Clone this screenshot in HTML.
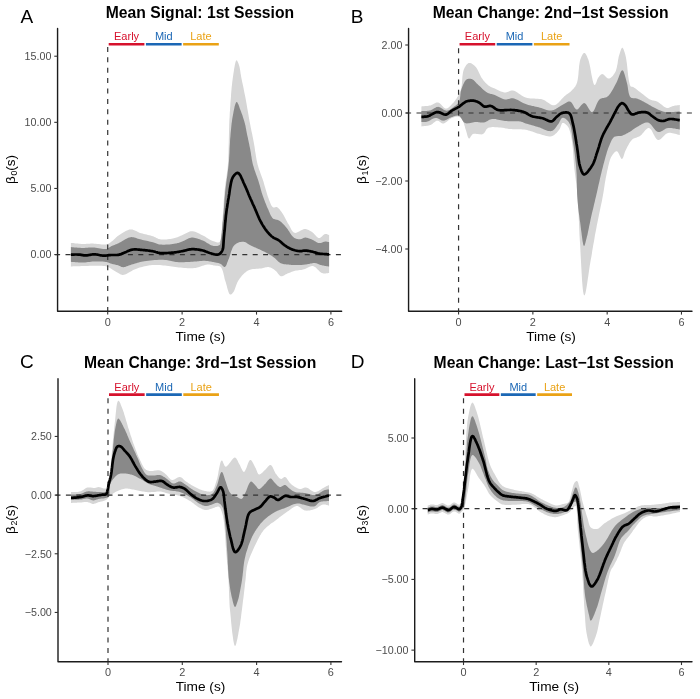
<!DOCTYPE html>
<html><head><meta charset="utf-8"><style>
html,body{margin:0;padding:0;background:#fff;}
svg{display:block;will-change:transform;}
text{font-family:"Liberation Sans", sans-serif;}
</style></head><body>
<svg width="700" height="699" viewBox="0 0 700 699">
<rect width="700" height="699" fill="#fff"/>
<path d="M70.90,242.90L72.0,243.0L73.2,243.1L74.3,243.2L75.5,243.4L76.6,243.5L77.8,243.6L78.9,243.7L80.0,243.8L81.2,243.9L82.3,243.9L83.4,243.9L84.4,243.9L85.5,243.9L86.5,243.8L87.6,243.8L88.6,243.7L89.7,243.7L90.8,243.6L91.9,243.6L93.0,243.6L94.3,243.7L95.7,243.8L97.2,243.9L98.7,244.1L100.2,244.2L101.7,244.4L103.1,244.5L104.4,244.5L105.6,244.4L106.6,244.3L107.1,244.2L107.6,244.0L108.1,243.8L108.5,243.7L108.9,243.4L109.3,243.2L109.6,243.0L110.0,242.7L110.4,242.4L110.9,242.1L111.6,241.6L112.3,241.0L113.0,240.4L113.7,239.7L114.5,239.0L115.3,238.2L116.0,237.5L116.9,236.8L117.7,236.1L118.6,235.5L119.7,234.8L120.8,234.0L122.0,233.2L123.2,232.4L124.5,231.7L125.7,231.0L127.0,230.4L128.2,229.9L129.4,229.6L130.6,229.4L131.6,229.4L132.5,229.6L133.4,229.9L134.3,230.2L135.3,230.7L136.2,231.1L137.1,231.6L138.0,232.1L139.0,232.5L140.0,232.9L141.2,233.3L142.5,233.6L143.8,234.0L145.2,234.3L146.6,234.6L147.9,234.9L149.3,235.3L150.5,235.6L151.8,235.9L152.9,236.3L153.7,236.6L154.4,236.9L155.1,237.3L155.8,237.6L156.4,238.0L157.1,238.3L157.8,238.6L158.5,238.9L159.2,239.1L160.0,239.3L161.1,239.4L162.4,239.5L163.7,239.5L165.0,239.5L166.4,239.4L167.7,239.3L169.1,239.1L170.4,238.9L171.7,238.7L172.9,238.5L173.8,238.3L174.7,238.0L175.6,237.8L176.5,237.5L177.3,237.2L178.1,236.9L178.9,236.5L179.8,236.2L180.6,235.8L181.5,235.5L182.5,235.1L183.5,234.6L184.5,234.0L185.5,233.5L186.6,232.9L187.6,232.4L188.7,231.9L189.7,231.5L190.7,231.3L191.8,231.2L192.9,231.3L194.0,231.5L195.1,231.8L196.3,232.2L197.4,232.7L198.5,233.3L199.6,233.8L200.7,234.4L201.8,235.0L202.9,235.5L203.9,236.0L205.0,236.6L206.0,237.2L207.0,237.9L208.0,238.5L209.0,239.2L210.0,239.8L211.0,240.3L212.0,240.7L212.9,241.1L213.6,241.3L214.4,241.6L215.1,241.8L215.8,242.1L216.5,242.3L217.2,242.4L217.9,242.4L218.5,242.4L219.1,242.2L219.6,241.9L220.3,241.0L220.9,239.7L221.3,237.9L221.5,235.9L221.7,233.7L221.8,231.3L221.9,228.8L222.0,226.2L222.1,223.8L222.3,221.4L222.6,218.5L222.8,215.5L223.1,212.4L223.3,209.2L223.5,205.9L223.7,202.6L223.9,199.4L224.2,196.2L224.4,193.0L224.7,190.0L225.0,187.4L225.3,184.9L225.6,182.4L226.0,180.0L226.4,177.6L226.7,175.2L227.0,172.8L227.4,170.3L227.7,167.6L227.9,164.9L228.2,161.2L228.3,157.4L228.5,153.3L228.6,149.1L228.7,144.9L228.8,140.7L228.9,136.5L229.0,132.5L229.1,128.6L229.2,125.0L229.3,122.4L229.4,119.8L229.6,117.3L229.7,114.9L229.8,112.6L230.0,110.3L230.1,108.0L230.3,105.7L230.4,103.4L230.6,101.0L230.8,98.7L231.0,96.3L231.1,94.0L231.3,91.6L231.5,89.3L231.7,86.9L232.0,84.7L232.2,82.4L232.5,80.2L232.8,78.0L233.1,76.0L233.4,73.8L233.8,71.4L234.1,69.1L234.5,66.9L234.9,64.8L235.3,63.0L235.7,61.6L236.1,60.7L236.5,60.3L236.7,60.3L237.0,60.5L237.2,60.8L237.4,61.2L237.7,61.7L237.9,62.2L238.1,62.8L238.4,63.3L238.6,63.9L238.8,64.5L239.1,65.5L239.4,66.6L239.7,67.8L239.9,69.1L240.2,70.5L240.4,71.9L240.6,73.4L240.9,74.9L241.1,76.4L241.4,77.9L241.8,79.9L242.2,82.1L242.7,84.3L243.2,86.6L243.7,88.9L244.1,91.3L244.6,93.7L245.1,96.0L245.6,98.4L246.0,100.7L246.4,103.0L246.8,105.3L247.2,107.7L247.6,110.0L248.0,112.3L248.4,114.6L248.8,116.9L249.2,119.2L249.6,121.4L250.0,123.6L250.4,125.5L250.7,127.3L251.1,129.1L251.4,130.8L251.8,132.5L252.2,134.3L252.5,136.0L252.9,137.8L253.2,139.6L253.6,141.5L254.0,143.7L254.4,146.1L254.8,148.5L255.1,150.9L255.5,153.3L255.9,155.8L256.3,158.2L256.7,160.5L257.2,162.8L257.7,164.9L258.2,166.6L258.6,168.1L259.1,169.6L259.7,171.1L260.2,172.6L260.7,174.0L261.3,175.5L261.8,176.9L262.4,178.4L262.9,180.0L263.5,181.8L264.0,183.7L264.6,185.7L265.2,187.7L265.7,189.6L266.3,191.6L266.9,193.5L267.4,195.3L268.0,197.0L268.6,198.6L269.0,199.7L269.4,200.7L269.8,201.8L270.2,202.8L270.6,203.8L271.0,204.7L271.4,205.5L271.9,206.2L272.4,206.8L272.9,207.2L273.3,207.4L273.7,207.4L274.1,207.4L274.5,207.4L275.0,207.3L275.4,207.2L275.8,207.1L276.3,207.0L276.7,207.1L277.1,207.2L277.6,207.5L278.2,207.9L278.7,208.4L279.2,208.9L279.7,209.5L280.2,210.2L280.7,210.9L281.2,211.6L281.7,212.3L282.2,213.0L282.9,214.0L283.5,215.1L284.2,216.2L284.8,217.4L285.5,218.7L286.1,219.9L286.7,221.1L287.4,222.4L288.0,223.5L288.7,224.6L289.3,225.5L289.8,226.5L290.3,227.6L290.8,228.6L291.3,229.5L291.9,230.4L292.5,231.2L293.1,231.9L293.8,232.5L294.5,232.8L295.4,232.9L296.3,232.7L297.4,232.3L298.5,231.8L299.6,231.2L300.7,230.5L301.9,229.9L303.0,229.4L304.0,229.1L305.0,229.0L305.8,229.1L306.5,229.2L307.2,229.4L307.9,229.7L308.6,230.0L309.3,230.4L310.0,230.8L310.7,231.2L311.3,231.6L312.0,232.0L312.7,232.5L313.5,233.2L314.2,234.0L314.9,234.8L315.6,235.6L316.3,236.3L317.0,237.0L317.7,237.6L318.4,237.9L319.1,238.1L319.7,238.0L320.3,237.7L320.9,237.3L321.6,236.8L322.2,236.2L322.8,235.6L323.4,235.1L324.0,234.6L324.5,234.2L325.1,234.0L325.5,234.0L325.9,234.0L326.3,234.0L326.7,234.1L327.1,234.3L327.5,234.4L327.9,234.6L328.3,234.7L328.7,234.9L329.1,235.0L329.10,273.10L328.4,273.1L327.7,273.2L327.0,273.3L326.3,273.3L325.6,273.4L324.9,273.4L324.2,273.5L323.5,273.4L322.8,273.3L322.1,273.1L321.2,272.7L320.3,272.0L319.4,271.2L318.5,270.3L317.6,269.4L316.7,268.5L315.8,267.6L314.9,266.9L314.0,266.4L313.0,266.1L312.0,266.1L311.1,266.2L310.1,266.5L309.0,266.9L308.0,267.4L307.0,267.9L306.0,268.4L305.0,268.9L304.0,269.3L303.0,269.6L302.2,269.8L301.3,269.9L300.5,270.0L299.7,270.1L298.9,270.2L298.1,270.3L297.3,270.4L296.6,270.5L295.8,270.6L295.0,270.8L294.2,271.0L293.4,271.3L292.7,271.5L291.9,271.8L291.1,272.1L290.4,272.4L289.6,272.7L288.9,273.0L288.1,273.3L287.4,273.6L286.7,273.9L286.0,274.2L285.4,274.6L284.7,275.0L284.0,275.4L283.4,275.7L282.7,276.0L282.1,276.2L281.5,276.2L280.9,276.2L280.3,276.0L279.8,275.6L279.3,275.2L278.8,274.6L278.3,274.0L277.9,273.4L277.4,272.7L276.9,272.1L276.4,271.5L275.8,271.0L275.2,270.5L274.6,270.1L274.0,269.6L273.4,269.1L272.7,268.7L272.1,268.3L271.4,267.9L270.7,267.6L270.0,267.4L269.3,267.2L268.5,267.1L267.6,267.1L266.8,267.2L265.9,267.3L265.0,267.5L264.0,267.7L263.1,267.9L262.2,268.2L261.2,268.4L260.3,268.5L259.3,268.6L258.2,268.7L257.1,268.8L256.1,268.8L255.0,268.9L253.9,269.0L252.8,269.1L251.8,269.2L250.9,269.4L250.0,269.7L249.3,270.0L248.7,270.2L248.1,270.5L247.5,270.8L247.0,271.2L246.4,271.6L245.9,272.0L245.4,272.4L244.8,272.8L244.3,273.3L243.6,273.9L243.0,274.6L242.3,275.3L241.6,276.1L241.0,276.9L240.3,277.7L239.7,278.6L239.1,279.4L238.5,280.3L238.0,281.2L237.4,282.2L236.9,283.4L236.5,284.6L236.0,285.8L235.6,287.1L235.1,288.3L234.7,289.5L234.3,290.5L233.8,291.4L233.3,292.2L233.0,292.6L232.7,293.0L232.4,293.3L232.1,293.7L231.7,294.0L231.4,294.2L231.1,294.4L230.8,294.6L230.5,294.6L230.2,294.6L229.7,294.2L229.1,293.4L228.6,292.3L228.2,291.0L227.7,289.4L227.2,287.7L226.8,286.0L226.3,284.3L225.9,282.7L225.4,281.2L224.9,279.7L224.5,278.2L224.2,276.5L223.8,274.9L223.4,273.2L223.0,271.7L222.5,270.2L222.0,268.9L221.4,267.8L220.7,267.0L220.2,266.6L219.6,266.3L219.0,266.1L218.4,265.9L217.7,265.8L217.1,265.8L216.4,265.7L215.7,265.7L215.1,265.6L214.4,265.5L213.7,265.4L213.0,265.2L212.3,265.1L211.7,264.9L211.0,264.8L210.2,264.7L209.5,264.6L208.8,264.6L208.0,264.6L207.2,264.6L206.1,264.7L204.9,265.0L203.7,265.4L202.4,265.8L201.1,266.3L199.8,266.7L198.4,267.2L197.1,267.6L195.7,267.9L194.3,268.1L192.7,268.2L191.0,268.3L189.4,268.2L187.7,268.2L185.9,268.0L184.2,267.9L182.4,267.7L180.7,267.5L178.9,267.4L177.2,267.2L175.5,267.0L173.7,266.8L171.9,266.6L170.2,266.3L168.4,266.0L166.6,265.8L164.9,265.6L163.2,265.4L161.6,265.2L160.0,265.1L158.8,265.1L157.6,265.0L156.4,265.0L155.3,265.0L154.2,265.0L153.1,265.1L152.0,265.1L150.9,265.2L149.7,265.3L148.6,265.5L147.3,265.7L146.1,265.9L144.8,266.2L143.5,266.5L142.2,266.9L140.9,267.2L139.6,267.6L138.3,268.0L137.1,268.5L135.8,268.9L134.5,269.4L133.1,270.1L131.7,270.9L130.3,271.7L128.9,272.5L127.6,273.2L126.3,273.9L125.0,274.4L123.9,274.8L122.9,274.9L122.4,274.9L121.9,274.8L121.5,274.7L121.1,274.6L120.7,274.4L120.3,274.2L119.9,273.9L119.5,273.7L119.1,273.4L118.6,273.2L117.9,272.8L117.2,272.4L116.4,272.0L115.6,271.5L114.7,270.9L113.9,270.4L113.1,269.9L112.3,269.4L111.6,269.0L110.9,268.6L110.4,268.3L110.0,268.1L109.6,267.8L109.2,267.6L108.8,267.4L108.4,267.1L108.0,266.9L107.6,266.7L107.1,266.6L106.6,266.4L105.8,266.2L104.9,266.1L104.0,265.9L103.0,265.9L102.0,265.8L100.9,265.8L99.9,265.7L98.8,265.7L97.7,265.7L96.6,265.7L95.3,265.7L93.9,265.7L92.4,265.7L91.0,265.8L89.5,265.8L88.0,265.9L86.6,265.9L85.1,266.0L83.7,266.1L82.3,266.1L81.1,266.1L79.9,266.2L78.8,266.2L77.6,266.2L76.5,266.3L75.4,266.3L74.3,266.3L73.2,266.3L72.0,266.4L70.9,266.4Z" fill="#d6d6d6"/>
<path d="M70.90,247.10L72.0,247.2L73.2,247.3L74.3,247.4L75.5,247.5L76.6,247.6L77.8,247.7L78.9,247.8L80.0,247.8L81.2,247.9L82.3,247.9L83.4,247.9L84.4,247.9L85.5,247.8L86.5,247.7L87.6,247.7L88.6,247.6L89.7,247.5L90.8,247.5L91.9,247.5L93.0,247.5L94.3,247.6L95.7,247.8L97.2,248.0L98.7,248.3L100.2,248.5L101.7,248.7L103.1,248.9L104.4,249.0L105.6,249.0L106.6,248.9L107.1,248.8L107.6,248.6L108.1,248.3L108.5,248.1L108.8,247.8L109.2,247.5L109.6,247.2L110.0,246.9L110.4,246.7L110.9,246.4L111.6,246.1L112.3,245.8L113.0,245.5L113.7,245.2L114.5,244.9L115.3,244.6L116.1,244.3L116.9,243.9L117.8,243.6L118.6,243.2L119.7,242.6L120.9,242.0L122.0,241.3L123.3,240.5L124.5,239.8L125.8,239.0L127.0,238.4L128.2,237.8L129.4,237.4L130.6,237.2L131.6,237.1L132.5,237.2L133.4,237.3L134.3,237.5L135.3,237.8L136.2,238.1L137.1,238.4L138.0,238.7L139.0,239.0L140.0,239.3L141.2,239.6L142.5,239.9L143.8,240.2L145.2,240.5L146.6,240.8L147.9,241.1L149.3,241.4L150.5,241.7L151.8,242.0L152.9,242.3L153.7,242.5L154.4,242.8L155.1,243.0L155.8,243.3L156.4,243.5L157.1,243.8L157.7,244.0L158.4,244.2L159.2,244.4L160.0,244.5L161.3,244.6L162.8,244.7L164.4,244.7L166.1,244.6L167.8,244.5L169.5,244.4L171.1,244.2L172.7,244.0L174.2,243.8L175.5,243.6L176.3,243.4L177.0,243.3L177.7,243.1L178.4,242.9L179.0,242.7L179.7,242.5L180.3,242.2L180.9,242.0L181.6,241.8L182.3,241.5L183.2,241.1L184.1,240.7L185.0,240.2L185.9,239.7L186.9,239.2L187.9,238.8L188.8,238.3L189.8,238.0L190.8,237.7L191.8,237.6L192.9,237.6L194.0,237.7L195.1,237.9L196.2,238.2L197.3,238.5L198.5,238.9L199.6,239.3L200.7,239.7L201.8,240.2L202.9,240.6L203.9,241.1L205.0,241.6L206.0,242.2L207.0,242.9L208.1,243.5L209.1,244.1L210.0,244.7L211.0,245.2L212.0,245.6L212.9,245.8L213.6,245.9L214.4,246.0L215.2,246.0L215.9,246.0L216.7,246.0L217.4,245.9L218.0,245.8L218.6,245.6L219.2,245.3L219.6,245.0L219.9,244.7L220.1,244.4L220.2,244.0L220.3,243.6L220.4,243.1L220.5,242.6L220.5,242.1L220.5,241.5L220.6,240.9L220.7,240.3L220.9,238.8L221.2,237.0L221.4,235.0L221.7,232.8L221.9,230.5L222.2,228.1L222.4,225.6L222.6,223.1L222.9,220.7L223.1,218.3L223.3,215.6L223.6,212.8L223.8,210.0L224.0,207.2L224.2,204.3L224.4,201.4L224.6,198.5L224.9,195.6L225.1,192.8L225.4,190.0L225.7,187.4L226.0,184.9L226.3,182.4L226.7,180.0L227.0,177.5L227.4,175.1L227.7,172.6L228.0,170.1L228.3,167.5L228.6,164.9L228.9,161.9L229.1,158.7L229.3,155.5L229.5,152.3L229.6,149.0L229.8,145.7L230.0,142.5L230.1,139.4L230.4,136.4L230.6,133.6L230.8,131.5L231.0,129.4L231.2,127.5L231.4,125.5L231.6,123.6L231.9,121.7L232.1,119.9L232.4,118.1L232.7,116.4L233.0,114.7L233.3,113.2L233.6,111.6L233.9,109.9L234.3,108.2L234.6,106.6L235.0,105.2L235.4,103.9L235.8,102.9L236.2,102.3L236.6,102.0L237.0,102.1L237.4,102.5L237.7,103.2L238.2,104.0L238.6,105.0L239.0,106.1L239.4,107.2L239.8,108.4L240.2,109.5L240.6,110.5L241.1,111.7L241.5,113.0L242.0,114.3L242.5,115.6L242.9,117.0L243.4,118.4L243.8,119.7L244.2,121.1L244.6,122.4L244.9,123.6L245.1,124.6L245.4,125.5L245.6,126.4L245.7,127.3L245.9,128.2L246.1,129.1L246.2,130.0L246.4,131.0L246.6,132.0L246.8,133.0L247.1,134.5L247.4,136.0L247.8,137.6L248.1,139.2L248.5,140.9L248.8,142.6L249.2,144.3L249.5,146.0L249.9,147.7L250.2,149.3L250.5,150.9L250.8,152.4L251.0,154.0L251.2,155.6L251.5,157.1L251.7,158.7L252.0,160.2L252.3,161.8L252.6,163.3L253.0,164.9L253.5,166.6L254.0,168.2L254.5,169.9L255.1,171.6L255.7,173.3L256.3,175.0L256.9,176.6L257.5,178.3L258.1,179.9L258.6,181.5L259.0,182.9L259.4,184.3L259.8,185.6L260.2,187.0L260.5,188.3L260.9,189.7L261.3,191.0L261.6,192.3L262.1,193.7L262.5,195.0L263.0,196.4L263.5,197.8L264.0,199.3L264.6,200.7L265.1,202.2L265.7,203.6L266.3,205.0L266.8,206.4L267.4,207.7L268.0,209.0L268.5,210.1L268.9,211.2L269.4,212.3L269.8,213.3L270.3,214.4L270.8,215.4L271.3,216.3L271.8,217.1L272.4,217.9L273.0,218.5L273.5,218.9L274.1,219.1L274.7,219.3L275.3,219.5L275.9,219.6L276.5,219.7L277.2,219.8L277.8,220.0L278.4,220.2L279.0,220.5L279.7,221.0L280.5,221.5L281.2,222.1L281.9,222.7L282.6,223.4L283.3,224.1L284.0,224.9L284.7,225.6L285.4,226.4L286.1,227.2L286.9,228.2L287.7,229.2L288.4,230.4L289.2,231.6L289.9,232.7L290.7,233.9L291.4,235.0L292.2,236.0L293.0,236.8L293.8,237.5L294.4,237.9L295.0,238.2L295.6,238.5L296.3,238.7L296.9,238.9L297.5,239.1L298.2,239.2L298.8,239.3L299.4,239.3L300.0,239.3L300.5,239.2L301.0,239.1L301.5,238.9L302.0,238.7L302.5,238.5L303.0,238.2L303.5,238.0L304.0,237.8L304.5,237.7L305.0,237.6L305.7,237.6L306.3,237.7L307.0,237.8L307.7,238.0L308.4,238.2L309.2,238.5L309.9,238.8L310.6,239.0L311.3,239.3L312.0,239.6L312.7,239.9L313.4,240.3L314.2,240.7L314.9,241.2L315.6,241.6L316.3,242.0L317.0,242.4L317.7,242.7L318.4,243.0L319.1,243.1L319.7,243.1L320.3,243.0L321.0,242.9L321.6,242.7L322.2,242.5L322.8,242.2L323.4,242.0L324.0,241.8L324.5,241.7L325.1,241.6L325.5,241.6L325.9,241.6L326.4,241.6L326.8,241.7L327.1,241.8L327.5,241.8L327.9,241.9L328.3,242.0L328.7,242.0L329.1,242.1L329.10,266.60L328.3,266.5L327.5,266.3L326.7,266.2L325.8,266.0L325.0,265.9L324.2,265.8L323.4,265.6L322.6,265.5L321.8,265.3L321.1,265.1L320.5,264.9L319.9,264.7L319.3,264.5L318.7,264.2L318.1,264.0L317.6,263.7L317.0,263.5L316.4,263.3L315.8,263.2L315.1,263.1L314.2,263.1L313.3,263.1L312.3,263.2L311.3,263.4L310.2,263.6L309.2,263.9L308.1,264.1L307.1,264.3L306.0,264.5L305.0,264.6L304.0,264.7L303.0,264.8L301.9,264.9L300.9,264.9L299.9,265.0L298.8,265.0L297.8,265.1L296.9,265.1L295.9,265.1L295.0,265.1L294.3,265.1L293.7,265.1L293.0,265.0L292.4,265.0L291.8,264.9L291.2,264.9L290.6,264.8L290.0,264.8L289.3,264.7L288.7,264.6L287.9,264.5L287.2,264.5L286.4,264.4L285.6,264.3L284.8,264.3L284.0,264.2L283.2,264.0L282.4,263.8L281.6,263.6L280.9,263.3L280.1,262.9L279.3,262.3L278.5,261.7L277.7,261.0L277.0,260.3L276.2,259.6L275.5,258.8L274.7,258.1L274.0,257.5L273.2,256.9L272.6,256.4L271.9,256.0L271.3,255.6L270.7,255.2L270.1,254.9L269.4,254.5L268.8,254.1L268.2,253.8L267.5,253.4L266.8,253.0L265.9,252.5L265.0,252.1L264.1,251.6L263.2,251.2L262.2,250.7L261.2,250.2L260.3,249.8L259.3,249.3L258.4,248.9L257.5,248.5L256.7,248.2L256.0,247.8L255.3,247.5L254.5,247.2L253.8,246.9L253.1,246.6L252.4,246.3L251.7,246.0L251.0,245.6L250.3,245.3L249.7,245.0L249.1,244.6L248.5,244.2L247.9,243.8L247.3,243.4L246.7,243.0L246.1,242.6L245.5,242.3L244.9,242.1L244.3,241.9L243.7,241.8L243.0,241.8L242.4,241.7L241.7,241.8L241.1,241.9L240.4,242.0L239.8,242.1L239.2,242.3L238.6,242.5L238.0,242.7L237.5,242.9L236.9,243.2L236.4,243.5L236.0,243.9L235.5,244.2L235.0,244.6L234.6,245.1L234.1,245.5L233.7,246.0L233.3,246.6L232.7,247.5L232.2,248.7L231.7,249.9L231.2,251.2L230.8,252.6L230.4,254.0L229.9,255.4L229.5,256.8L229.1,258.0L228.6,259.2L228.2,260.1L227.9,261.1L227.5,262.1L227.1,263.1L226.8,264.1L226.4,265.0L226.0,265.7L225.6,266.3L225.2,266.8L224.7,267.0L224.3,267.0L224.0,266.9L223.6,266.6L223.2,266.2L222.8,265.8L222.4,265.4L222.0,265.0L221.6,264.5L221.2,264.2L220.7,263.9L220.2,263.7L219.6,263.4L219.0,263.3L218.4,263.1L217.8,263.0L217.1,262.8L216.4,262.7L215.8,262.6L215.1,262.4L214.4,262.3L213.5,262.1L212.7,261.9L211.7,261.7L210.8,261.6L209.9,261.4L208.9,261.2L207.9,261.1L207.0,261.0L206.0,260.9L205.0,260.8L204.0,260.8L202.9,260.8L201.9,260.9L200.9,261.0L199.9,261.1L198.8,261.2L197.7,261.3L196.6,261.4L195.5,261.5L194.3,261.6L192.7,261.7L191.1,261.8L189.4,261.9L187.6,262.0L185.8,262.1L184.0,262.2L182.2,262.2L180.5,262.2L178.8,262.2L177.2,262.1L175.9,262.0L174.7,261.8L173.5,261.5L172.3,261.3L171.2,261.0L170.0,260.7L168.8,260.4L167.6,260.2L166.3,260.0L165.0,259.9L163.1,259.8L161.1,259.8L159.0,259.8L156.9,259.9L154.7,260.1L152.5,260.2L150.3,260.4L148.2,260.7L146.2,260.9L144.3,261.2L142.9,261.5L141.5,261.8L140.1,262.1L138.8,262.4L137.5,262.8L136.3,263.2L135.0,263.5L133.8,263.9L132.7,264.3L131.5,264.6L130.6,264.9L129.6,265.2L128.7,265.6L127.8,265.9L126.9,266.3L126.0,266.6L125.2,266.9L124.4,267.1L123.6,267.2L122.9,267.2L122.4,267.1L122.0,267.0L121.5,266.9L121.1,266.7L120.7,266.5L120.3,266.3L119.9,266.1L119.5,265.9L119.1,265.7L118.6,265.5L117.9,265.3L117.2,265.1L116.4,264.9L115.6,264.7L114.8,264.5L113.9,264.3L113.1,264.2L112.3,264.0L111.6,263.8L110.9,263.6L110.4,263.4L110.0,263.3L109.6,263.1L109.2,263.0L108.8,262.8L108.4,262.6L108.0,262.5L107.6,262.3L107.1,262.2L106.6,262.1L105.8,261.9L104.9,261.8L104.0,261.7L103.0,261.6L102.0,261.5L100.9,261.5L99.9,261.4L98.8,261.4L97.7,261.4L96.6,261.4L95.3,261.4L93.9,261.5L92.4,261.6L91.0,261.8L89.5,261.9L88.0,262.1L86.6,262.2L85.1,262.4L83.7,262.5L82.3,262.5L81.1,262.5L79.9,262.5L78.8,262.4L77.6,262.3L76.5,262.2L75.4,262.2L74.3,262.1L73.2,262.0L72.0,261.9L70.9,261.8Z" fill="#898989"/>
<line x1="55.10" y1="254.57" x2="342.35" y2="254.57" stroke="#333" stroke-width="1.2" stroke-dasharray="5,5.4"/>
<line x1="107.71" y1="46.90" x2="107.71" y2="311.30" stroke="#333" stroke-width="1.2" stroke-dasharray="5,5.4"/>
<path d="M70.90,254.60L71.7,254.6L72.5,254.6L73.3,254.6L74.0,254.6L74.8,254.5L75.6,254.5L76.4,254.5L77.2,254.5L77.9,254.6L78.7,254.6L79.4,254.7L80.2,254.7L80.9,254.8L81.6,254.9L82.3,255.1L83.0,255.2L83.7,255.3L84.4,255.3L85.2,255.4L85.9,255.4L86.7,255.4L87.5,255.3L88.4,255.1L89.2,255.0L90.1,254.8L90.9,254.7L91.8,254.5L92.7,254.4L93.5,254.3L94.4,254.3L95.3,254.3L96.3,254.5L97.2,254.6L98.1,254.8L99.1,255.0L100.0,255.2L101.0,255.4L101.9,255.5L102.8,255.6L103.7,255.7L104.5,255.7L105.2,255.7L105.9,255.6L106.6,255.5L107.3,255.4L108.0,255.3L108.7,255.2L109.5,255.1L110.2,255.1L110.9,255.0L111.7,255.0L112.4,255.0L113.2,255.0L114.0,255.0L114.8,255.0L115.6,255.0L116.3,255.0L117.1,255.0L117.9,254.9L118.6,254.8L119.3,254.6L120.0,254.4L120.7,254.2L121.4,253.9L122.1,253.6L122.8,253.4L123.5,253.1L124.1,252.8L124.8,252.5L125.5,252.2L126.2,251.9L126.8,251.6L127.5,251.3L128.1,251.0L128.8,250.7L129.5,250.4L130.1,250.2L130.8,249.9L131.6,249.8L132.3,249.6L133.2,249.5L134.2,249.4L135.2,249.4L136.2,249.4L137.3,249.5L138.4,249.6L139.4,249.7L140.5,249.8L141.6,249.9L142.6,250.0L143.6,250.1L144.7,250.2L145.8,250.3L146.8,250.4L147.9,250.5L148.9,250.7L150.0,250.8L151.0,251.0L152.0,251.1L152.9,251.3L153.7,251.5L154.4,251.6L155.1,251.8L155.7,252.0L156.4,252.2L157.1,252.4L157.7,252.6L158.5,252.8L159.2,252.9L160.0,253.0L161.1,253.1L162.4,253.1L163.7,253.1L165.0,253.1L166.4,253.1L167.7,253.0L169.1,252.9L170.4,252.8L171.7,252.7L172.9,252.6L173.8,252.5L174.7,252.4L175.6,252.3L176.4,252.2L177.3,252.0L178.1,251.9L178.9,251.8L179.8,251.6L180.6,251.5L181.5,251.3L182.5,251.1L183.5,250.9L184.5,250.6L185.5,250.4L186.6,250.1L187.6,249.8L188.6,249.6L189.7,249.4L190.7,249.3L191.8,249.2L192.9,249.2L194.0,249.2L195.2,249.3L196.3,249.4L197.5,249.5L198.6,249.7L199.8,249.9L200.9,250.1L201.9,250.3L202.9,250.5L203.7,250.7L204.4,250.9L205.1,251.2L205.7,251.5L206.4,251.7L207.1,252.0L207.7,252.3L208.4,252.5L209.1,252.8L209.8,253.0L210.6,253.2L211.5,253.5L212.4,253.8L213.4,254.0L214.3,254.3L215.2,254.5L216.1,254.6L216.9,254.7L217.7,254.6L218.4,254.5L218.9,254.3L219.4,254.1L219.8,253.8L220.3,253.4L220.7,253.0L221.0,252.6L221.4,252.1L221.7,251.6L222.0,251.1L222.3,250.5L222.7,249.5L223.0,248.5L223.2,247.3L223.3,246.0L223.4,244.6L223.5,243.2L223.6,241.7L223.7,240.2L223.8,238.7L223.9,237.2L224.1,235.1L224.3,232.8L224.6,230.5L224.8,228.0L225.0,225.5L225.2,223.0L225.5,220.5L225.7,218.1L225.9,215.8L226.2,213.6L226.4,211.9L226.6,210.3L226.8,208.7L227.1,207.2L227.3,205.7L227.5,204.2L227.8,202.7L228.0,201.1L228.3,199.5L228.6,197.9L228.9,195.9L229.3,193.7L229.6,191.4L229.9,189.0L230.3,186.7L230.7,184.4L231.1,182.3L231.6,180.3L232.2,178.6L232.9,177.2L233.3,176.5L233.8,175.8L234.3,175.2L234.8,174.6L235.3,174.1L235.8,173.6L236.4,173.3L236.9,173.0L237.4,172.9L237.9,172.9L238.6,173.2L239.2,173.9L239.9,174.8L240.6,175.9L241.2,177.2L241.8,178.7L242.5,180.1L243.1,181.6L243.7,183.0L244.3,184.3L244.9,185.6L245.5,186.9L246.1,188.2L246.7,189.6L247.2,190.9L247.8,192.3L248.3,193.6L248.9,195.0L249.4,196.3L250.0,197.6L250.5,198.8L251.1,200.0L251.6,201.1L252.1,202.3L252.6,203.5L253.1,204.6L253.7,205.7L254.2,206.9L254.7,208.0L255.2,209.2L255.7,210.4L256.2,211.5L256.7,212.7L257.2,213.9L257.7,215.1L258.2,216.2L258.7,217.4L259.2,218.6L259.7,219.7L260.3,220.8L260.9,221.9L261.5,223.0L262.1,224.1L262.7,225.1L263.4,226.2L264.1,227.3L264.7,228.3L265.4,229.3L266.1,230.2L266.8,231.1L267.4,231.8L268.0,232.6L268.7,233.3L269.3,234.0L269.9,234.7L270.6,235.3L271.2,235.9L271.9,236.5L272.6,237.0L273.2,237.5L273.7,237.8L274.2,238.1L274.8,238.4L275.3,238.6L275.8,238.8L276.3,239.1L276.8,239.3L277.3,239.5L277.9,239.8L278.4,240.1L279.0,240.5L279.7,241.0L280.3,241.5L280.9,242.1L281.6,242.6L282.2,243.2L282.8,243.8L283.5,244.3L284.1,244.8L284.8,245.3L285.4,245.7L286.0,246.2L286.6,246.6L287.3,247.0L287.9,247.4L288.5,247.8L289.2,248.1L289.8,248.5L290.5,248.8L291.2,249.1L292.0,249.4L292.9,249.7L293.8,250.0L294.7,250.3L295.6,250.5L296.6,250.7L297.5,250.9L298.4,251.0L299.2,251.1L300.0,251.2L300.6,251.2L301.1,251.2L301.6,251.1L302.1,251.0L302.5,250.9L303.0,250.8L303.5,250.7L304.0,250.7L304.5,250.6L305.0,250.6L305.7,250.6L306.3,250.7L307.0,250.7L307.7,250.8L308.4,250.9L309.1,251.0L309.9,251.2L310.6,251.3L311.3,251.5L312.0,251.6L312.7,251.8L313.4,252.0L314.1,252.2L314.9,252.4L315.6,252.6L316.3,252.9L317.0,253.1L317.7,253.3L318.4,253.5L319.1,253.6L319.7,253.7L320.3,253.8L321.0,253.8L321.6,253.9L322.2,253.9L322.8,254.0L323.4,254.0L324.0,254.0L324.6,254.1L325.1,254.1L325.5,254.1L326.0,254.2L326.4,254.2L326.8,254.2L327.2,254.3L327.5,254.3L327.9,254.3L328.3,254.3L328.7,254.4L329.1,254.4" fill="none" stroke="#000" stroke-width="2.7" stroke-linejoin="round" stroke-linecap="butt"/>
<path d="M57.57,28.40L57.57,311.30L341.65,311.30" fill="none" stroke="#1c1c1c" stroke-width="1.4" stroke-linejoin="round" stroke-linecap="round"/>
<line x1="54.27" y1="254.57" x2="57.57" y2="254.57" stroke="#333" stroke-width="1.1"/>
<text x="51.37" y="258.37" text-anchor="end" font-size="10.7" fill="#4d4d4d">0.00</text>
<line x1="54.27" y1="188.45" x2="57.57" y2="188.45" stroke="#333" stroke-width="1.1"/>
<text x="51.37" y="192.25" text-anchor="end" font-size="10.7" fill="#4d4d4d">5.00</text>
<line x1="54.27" y1="122.34" x2="57.57" y2="122.34" stroke="#333" stroke-width="1.1"/>
<text x="51.37" y="126.14" text-anchor="end" font-size="10.7" fill="#4d4d4d">10.00</text>
<line x1="54.27" y1="56.22" x2="57.57" y2="56.22" stroke="#333" stroke-width="1.1"/>
<text x="51.37" y="60.02" text-anchor="end" font-size="10.7" fill="#4d4d4d">15.00</text>
<line x1="107.71" y1="311.30" x2="107.71" y2="314.60" stroke="#333" stroke-width="1.1"/>
<text x="107.71" y="325.70" text-anchor="middle" font-size="10.9" fill="#4d4d4d">0</text>
<line x1="182.11" y1="311.30" x2="182.11" y2="314.60" stroke="#333" stroke-width="1.1"/>
<text x="182.11" y="325.70" text-anchor="middle" font-size="10.9" fill="#4d4d4d">2</text>
<line x1="256.51" y1="311.30" x2="256.51" y2="314.60" stroke="#333" stroke-width="1.1"/>
<text x="256.51" y="325.70" text-anchor="middle" font-size="10.9" fill="#4d4d4d">4</text>
<line x1="330.91" y1="311.30" x2="330.91" y2="314.60" stroke="#333" stroke-width="1.1"/>
<text x="330.91" y="325.70" text-anchor="middle" font-size="10.9" fill="#4d4d4d">6</text>
<text x="200.36" y="340.50" text-anchor="middle" font-size="13.7" fill="#000">Time (s)</text>
<text transform="translate(14.50,169.50) rotate(-90)" text-anchor="middle" font-size="13.5" fill="#000">&#946;<tspan font-size="8.8" dx="0.7" dy="2.4">0</tspan><tspan dy="-2.4">(s)</tspan></text>
<text x="199.96" y="17.70" text-anchor="middle" font-size="15.7" font-weight="bold" fill="#000">Mean Signal: 1st Session</text>
<text x="20.60" y="23.40" font-size="19" fill="#000">A</text>
<line x1="108.71" y1="44.20" x2="144.41" y2="44.20" stroke="#d6112c" stroke-width="2.6"/>
<text x="126.56" y="40.20" text-anchor="middle" font-size="11" fill="#d6112c">Early</text>
<line x1="145.91" y1="44.20" x2="181.61" y2="44.20" stroke="#1b67b5" stroke-width="2.6"/>
<text x="163.76" y="40.20" text-anchor="middle" font-size="11" fill="#1b67b5">Mid</text>
<line x1="183.11" y1="44.20" x2="218.81" y2="44.20" stroke="#eaa215" stroke-width="2.6"/>
<text x="200.96" y="40.20" text-anchor="middle" font-size="11" fill="#eaa215">Late</text>
<path d="M421.40,106.40L422.3,106.3L423.2,106.2L424.1,106.2L425.0,106.1L425.9,106.0L426.8,105.9L427.7,105.9L428.6,105.7L429.4,105.6L430.3,105.4L431.1,105.2L431.9,104.8L432.7,104.4L433.5,104.0L434.3,103.6L435.1,103.2L435.8,102.8L436.6,102.6L437.3,102.5L438.1,102.5L438.9,102.8L439.7,103.3L440.5,104.0L441.3,104.8L442.1,105.7L442.9,106.6L443.7,107.4L444.5,108.0L445.2,108.4L446.0,108.6L446.7,108.5L447.5,108.2L448.2,107.7L449.0,107.2L449.7,106.5L450.5,105.8L451.2,105.0L451.8,104.3L452.5,103.6L453.1,102.9L453.6,102.4L454.1,101.8L454.6,101.3L455.0,100.7L455.4,100.1L455.8,99.6L456.2,99.0L456.6,98.4L457.0,97.7L457.4,97.1L457.8,96.4L458.2,95.7L458.6,94.9L459.0,94.2L459.4,93.4L459.7,92.6L460.1,91.8L460.4,90.9L460.7,90.0L461.0,89.0L461.4,87.3L461.7,85.5L461.9,83.4L462.1,81.2L462.2,79.0L462.4,76.8L462.7,74.6L463.0,72.6L463.4,70.8L463.9,69.3L464.3,68.4L464.7,67.5L465.2,66.7L465.7,65.9L466.2,65.1L466.8,64.5L467.3,63.9L467.9,63.4L468.5,63.1L469.1,62.9L469.7,62.9L470.3,63.0L471.0,63.2L471.6,63.5L472.3,63.9L473.0,64.4L473.6,64.9L474.3,65.5L474.9,66.1L475.5,66.7L476.2,67.6L476.9,68.6L477.6,69.7L478.2,71.0L478.8,72.3L479.4,73.6L480.0,74.8L480.6,76.1L481.2,77.2L481.9,78.3L482.5,79.1L483.1,79.9L483.7,80.7L484.4,81.5L485.0,82.2L485.7,82.9L486.3,83.6L487.0,84.3L487.7,84.8L488.4,85.4L489.0,85.8L489.6,86.2L490.2,86.6L490.8,86.9L491.5,87.2L492.1,87.5L492.7,87.7L493.4,88.0L494.1,88.3L494.8,88.6L495.7,89.0L496.7,89.5L497.7,90.0L498.8,90.5L499.8,91.0L500.9,91.4L501.9,91.8L503.0,92.1L504.0,92.4L505.0,92.5L505.8,92.5L506.6,92.3L507.4,92.1L508.2,91.8L508.9,91.4L509.7,91.1L510.5,90.8L511.2,90.6L512.1,90.5L512.9,90.5L514.1,90.8L515.3,91.3L516.5,92.0L517.7,92.8L519.0,93.7L520.3,94.6L521.6,95.5L522.9,96.3L524.3,97.0L525.7,97.6L527.3,98.0L528.9,98.3L530.6,98.4L532.4,98.5L534.1,98.6L535.9,98.7L537.6,98.7L539.3,98.9L541.0,99.1L542.5,99.5L543.8,100.0L545.0,100.6L546.2,101.4L547.4,102.2L548.6,103.1L549.7,103.8L550.8,104.5L551.9,105.0L553.0,105.3L554.1,105.3L555.2,105.0L556.3,104.4L557.4,103.6L558.4,102.7L559.5,101.6L560.5,100.5L561.5,99.3L562.5,98.2L563.5,97.2L564.4,96.3L565.2,95.7L565.9,95.1L566.6,94.6L567.4,94.1L568.1,93.6L568.8,93.0L569.5,92.5L570.1,92.0L570.8,91.4L571.4,90.8L572.0,90.2L572.6,89.6L573.2,89.0L573.7,88.4L574.2,87.7L574.8,87.1L575.3,86.4L575.7,85.6L576.2,84.7L576.6,83.8L577.2,81.9L577.7,79.7L578.1,77.1L578.4,74.4L578.6,71.5L578.9,68.7L579.1,65.9L579.5,63.4L579.9,61.1L580.4,59.3L580.7,58.4L581.1,57.5L581.5,56.6L581.9,55.8L582.3,55.0L582.7,54.3L583.1,53.7L583.5,53.3L583.9,53.0L584.3,52.9L584.7,53.0L585.1,53.3L585.5,53.7L585.9,54.3L586.3,55.0L586.7,55.8L587.1,56.6L587.4,57.5L587.8,58.4L588.2,59.3L588.9,61.4L589.5,64.1L590.2,67.3L590.8,70.7L591.4,74.2L592.1,77.5L592.7,80.4L593.3,82.8L593.9,84.4L594.6,85.0L595.0,84.9L595.3,84.4L595.7,83.8L596.1,82.9L596.5,81.9L596.8,80.9L597.2,79.8L597.6,78.8L598.1,78.0L598.5,77.3L598.8,76.9L599.2,76.4L599.5,76.0L599.9,75.6L600.3,75.2L600.7,74.8L601.0,74.5L601.5,74.3L601.9,74.2L602.3,74.1L602.9,74.2L603.5,74.6L604.1,75.1L604.8,75.7L605.5,76.4L606.1,77.1L606.8,77.7L607.5,78.2L608.2,78.5L608.8,78.6L609.5,78.5L610.2,78.1L610.9,77.7L611.5,77.1L612.2,76.4L612.9,75.7L613.5,74.8L614.1,74.0L614.7,73.1L615.2,72.2L615.8,70.9L616.3,69.3L616.8,67.6L617.1,65.8L617.5,64.0L617.8,62.1L618.0,60.2L618.4,58.5L618.7,56.8L619.1,55.4L619.4,54.4L619.7,53.4L620.0,52.4L620.4,51.3L620.7,50.4L621.0,49.5L621.3,48.8L621.7,48.2L622.0,47.8L622.3,47.7L622.6,47.8L622.9,48.2L623.3,48.7L623.6,49.4L623.9,50.2L624.2,51.2L624.6,52.2L624.9,53.3L625.2,54.3L625.5,55.4L626.0,57.8L626.5,60.9L627.0,64.5L627.4,68.4L627.8,72.3L628.2,76.1L628.7,79.6L629.3,82.6L629.9,84.9L630.6,86.3L630.8,86.5L631.0,86.6L631.3,86.7L631.5,86.8L631.7,86.8L632.0,86.8L632.2,86.8L632.5,86.8L632.7,86.9L633.0,87.0L633.6,87.3L634.2,87.7L634.8,88.1L635.5,88.6L636.2,89.1L637.0,89.7L637.7,90.3L638.5,90.9L639.2,91.4L640.0,92.0L640.9,92.7L641.9,93.5L642.9,94.3L643.9,95.1L645.0,96.0L646.0,96.8L647.0,97.6L648.0,98.3L649.0,99.0L650.0,99.5L650.7,99.8L651.4,100.1L652.1,100.3L652.8,100.4L653.5,100.5L654.2,100.7L654.9,100.8L655.6,101.0L656.3,101.2L657.0,101.5L658.0,102.0L659.0,102.7L660.0,103.5L661.0,104.3L662.1,105.1L663.1,106.0L664.1,106.7L665.1,107.3L666.1,107.8L667.0,108.0L667.6,108.0L668.3,107.9L668.9,107.8L669.5,107.6L670.0,107.3L670.6,107.0L671.2,106.7L671.8,106.4L672.4,106.2L673.0,106.0L673.7,105.9L674.3,105.7L675.0,105.6L675.7,105.5L676.4,105.4L677.1,105.3L677.7,105.3L678.4,105.2L679.1,105.1L679.8,105.0L679.80,135.00L678.6,134.8L677.4,134.5L676.2,134.1L675.0,133.8L673.8,133.4L672.6,133.2L671.4,132.9L670.2,132.8L669.1,132.8L668.0,133.0L666.9,133.4L665.8,134.1L664.8,135.0L663.8,136.0L662.8,137.0L661.8,138.0L660.8,138.9L659.9,139.5L658.9,139.9L658.0,140.0L657.0,139.5L656.1,138.6L655.2,137.2L654.3,135.6L653.4,133.9L652.6,132.2L651.7,130.6L650.8,129.3L649.9,128.4L649.0,128.0L648.1,128.1L647.3,128.5L646.4,129.2L645.5,130.1L644.6,131.1L643.7,132.2L642.7,133.3L641.8,134.4L640.9,135.3L640.0,136.0L639.2,136.5L638.4,136.8L637.6,137.1L636.8,137.4L636.0,137.7L635.2,138.0L634.4,138.3L633.6,138.6L632.9,139.1L632.2,139.6L631.4,140.4L630.7,141.2L630.0,142.2L629.3,143.3L628.7,144.4L628.1,145.5L627.5,146.6L626.9,147.8L626.3,148.9L625.8,149.9L625.3,150.9L624.9,152.0L624.5,153.2L624.2,154.3L623.8,155.5L623.5,156.5L623.1,157.5L622.7,158.2L622.3,158.7L621.9,158.9L621.4,158.7L621.0,158.2L620.5,157.3L620.0,156.3L619.5,155.2L619.0,154.0L618.4,153.0L617.9,152.1L617.3,151.5L616.8,151.2L616.3,151.2L615.8,151.4L615.2,151.8L614.7,152.2L614.1,152.8L613.6,153.4L613.1,154.1L612.6,154.8L612.1,155.5L611.6,156.3L610.9,157.6L610.3,159.1L609.7,160.8L609.2,162.6L608.7,164.5L608.2,166.5L607.8,168.5L607.3,170.5L606.9,172.5L606.5,174.4L606.1,176.4L605.7,178.3L605.4,180.3L605.0,182.2L604.7,184.2L604.4,186.2L604.1,188.3L603.8,190.5L603.4,192.7L603.0,195.0L602.4,198.3L601.7,201.9L600.9,205.6L600.1,209.4L599.3,213.3L598.5,217.3L597.7,221.2L596.9,225.1L596.2,228.9L595.5,232.5L594.9,235.6L594.4,238.7L593.9,241.7L593.3,244.7L592.8,247.7L592.3,250.6L591.9,253.6L591.4,256.5L590.8,259.5L590.3,262.6L589.7,266.1L589.1,270.2L588.5,274.5L587.8,278.9L587.2,283.2L586.6,287.1L586.0,290.5L585.4,293.2L584.8,295.0L584.3,295.6L583.7,294.5L583.1,291.5L582.6,286.9L582.1,281.0L581.7,274.3L581.3,267.1L580.9,259.7L580.5,252.5L580.2,245.8L579.8,240.0L579.5,235.3L579.3,230.5L579.1,225.8L578.9,221.1L578.7,216.5L578.5,212.0L578.3,207.5L578.1,203.2L577.8,199.0L577.5,195.0L577.2,192.0L576.9,189.1L576.6,186.4L576.3,183.7L575.9,181.1L575.6,178.5L575.3,175.9L574.9,173.2L574.6,170.6L574.3,167.9L574.0,165.0L573.8,162.1L573.6,159.1L573.4,156.1L573.2,153.1L573.0,150.1L572.7,147.3L572.4,144.5L572.1,142.0L571.7,139.6L571.4,138.1L571.1,136.5L570.8,135.1L570.5,133.6L570.2,132.3L569.8,131.0L569.4,129.8L569.0,128.6L568.5,127.6L567.9,126.7L567.5,126.1L567.0,125.5L566.4,124.9L565.9,124.4L565.3,123.9L564.7,123.5L564.2,123.2L563.7,123.0L563.2,122.9L562.7,122.9L562.3,123.1L561.9,123.6L561.6,124.2L561.3,124.9L561.0,125.7L560.7,126.6L560.4,127.5L560.1,128.3L559.7,129.1L559.2,129.8L558.6,130.5L558.0,131.3L557.3,132.1L556.6,132.9L555.8,133.6L555.0,134.3L554.2,134.9L553.3,135.5L552.4,135.9L551.5,136.2L550.4,136.4L549.2,136.4L547.9,136.3L546.6,136.0L545.3,135.7L544.0,135.3L542.6,134.9L541.2,134.5L539.9,134.1L538.6,133.7L537.3,133.4L536.0,133.0L534.8,132.5L533.5,132.1L532.2,131.6L531.0,131.2L529.7,130.8L528.4,130.4L527.1,130.1L525.7,129.8L524.2,129.6L522.6,129.4L521.0,129.3L519.4,129.3L517.7,129.3L516.1,129.2L514.5,129.2L512.9,129.2L511.4,129.1L510.0,129.0L508.9,128.9L507.9,128.7L506.9,128.5L505.9,128.4L504.9,128.2L504.0,128.0L503.0,127.8L502.0,127.7L501.0,127.6L500.0,127.5L498.8,127.4L497.6,127.3L496.3,127.2L495.0,127.2L493.7,127.1L492.4,127.1L491.2,127.2L490.0,127.4L488.9,127.6L488.0,128.0L487.3,128.4L486.8,129.0L486.3,129.6L485.9,130.3L485.5,131.0L485.1,131.8L484.6,132.5L484.2,133.1L483.6,133.6L483.0,134.0L482.2,134.3L481.2,134.4L480.2,134.3L479.1,134.2L477.9,134.0L476.8,133.9L475.7,133.7L474.7,133.7L473.8,133.8L473.0,134.0L472.5,134.3L472.0,134.8L471.5,135.4L471.1,136.0L470.7,136.6L470.3,137.2L470.0,137.8L469.7,138.2L469.3,138.4L469.0,138.5L468.6,138.3L468.3,137.8L468.0,137.2L467.7,136.4L467.4,135.5L467.1,134.5L466.9,133.4L466.6,132.4L466.3,131.4L466.0,130.5L465.7,129.5L465.3,128.4L465.0,127.2L464.7,126.1L464.3,124.9L464.0,123.8L463.6,122.7L463.3,121.7L462.8,120.8L462.4,120.0L462.1,119.5L461.8,119.1L461.5,118.7L461.2,118.3L460.8,118.0L460.5,117.7L460.1,117.4L459.7,117.2L459.3,117.0L458.9,116.8L458.3,116.7L457.7,116.6L457.0,116.6L456.3,116.7L455.5,116.8L454.7,117.0L454.0,117.2L453.2,117.5L452.4,117.7L451.7,118.0L450.8,118.4L450.0,119.0L449.1,119.7L448.2,120.4L447.3,121.2L446.4,121.9L445.6,122.5L444.7,123.1L443.9,123.4L443.1,123.6L442.5,123.5L441.9,123.3L441.3,123.0L440.8,122.6L440.2,122.2L439.7,121.7L439.1,121.3L438.6,121.0L438.0,120.8L437.4,120.7L436.7,120.8L436.0,121.1L435.4,121.5L434.7,122.0L434.0,122.5L433.3,123.1L432.6,123.7L431.8,124.2L431.1,124.7L430.3,125.0L429.5,125.3L428.6,125.5L427.7,125.7L426.9,125.8L425.9,125.9L425.0,126.0L424.1,126.1L423.2,126.2L422.3,126.3L421.4,126.4Z" fill="#d6d6d6"/>
<path d="M421.40,111.10L422.3,111.0L423.2,111.0L424.1,111.0L425.0,111.0L425.9,110.9L426.8,110.9L427.7,110.8L428.6,110.7L429.4,110.6L430.3,110.4L431.1,110.1L431.9,109.8L432.7,109.3L433.5,108.8L434.2,108.3L435.0,107.9L435.8,107.4L436.5,107.1L437.3,106.9L438.1,106.8L438.9,106.9L439.8,107.2L440.7,107.7L441.5,108.2L442.4,108.8L443.3,109.4L444.1,109.9L445.0,110.3L445.8,110.6L446.7,110.7L447.6,110.6L448.5,110.3L449.4,109.9L450.4,109.4L451.3,108.8L452.2,108.1L453.0,107.5L453.8,106.8L454.6,106.2L455.3,105.7L455.8,105.4L456.2,105.0L456.6,104.7L457.0,104.4L457.3,104.1L457.7,103.8L458.0,103.4L458.3,103.0L458.6,102.6L458.9,102.1L459.3,101.1L459.6,100.0L459.9,98.7L460.1,97.4L460.3,95.9L460.4,94.5L460.6,93.0L460.8,91.6L461.1,90.2L461.5,89.0L461.9,87.9L462.3,86.8L462.7,85.7L463.2,84.6L463.7,83.5L464.2,82.5L464.7,81.6L465.3,80.8L465.9,80.1L466.5,79.6L467.0,79.3L467.4,79.1L467.9,78.9L468.4,78.8L469.0,78.7L469.5,78.7L470.0,78.7L470.6,78.8L471.1,78.9L471.6,79.0L472.3,79.3L472.9,79.7L473.5,80.1L474.2,80.7L474.8,81.3L475.4,82.0L476.1,82.7L476.7,83.4L477.4,84.1L478.1,84.7L478.9,85.5L479.8,86.3L480.7,87.1L481.6,88.0L482.5,88.9L483.4,89.7L484.3,90.5L485.3,91.3L486.2,91.9L487.1,92.5L487.9,92.9L488.6,93.2L489.4,93.5L490.1,93.7L490.9,93.9L491.6,94.1L492.4,94.3L493.2,94.5L494.0,94.7L494.8,95.0L495.8,95.4L496.8,95.9L497.8,96.4L498.8,97.0L499.9,97.5L500.9,98.1L502.0,98.6L503.0,99.0L504.0,99.3L505.0,99.5L505.8,99.5L506.6,99.5L507.4,99.3L508.1,99.1L508.9,98.9L509.7,98.7L510.4,98.5L511.2,98.3L512.1,98.2L512.9,98.3L514.1,98.6L515.3,99.0L516.5,99.5L517.8,100.1L519.1,100.8L520.4,101.6L521.7,102.3L523.1,103.0L524.4,103.6L525.7,104.1L527.0,104.5L528.3,104.9L529.5,105.2L530.8,105.6L532.1,105.9L533.4,106.1L534.7,106.4L536.0,106.7L537.3,107.0L538.6,107.3L539.9,107.7L541.2,108.1L542.5,108.5L543.9,109.0L545.2,109.5L546.5,109.9L547.8,110.2L549.0,110.4L550.3,110.5L551.5,110.5L552.6,110.3L553.7,109.9L554.7,109.5L555.8,108.9L556.8,108.3L557.8,107.7L558.8,107.0L559.8,106.4L560.8,105.8L561.8,105.3L562.7,104.8L563.5,104.3L564.4,103.8L565.3,103.2L566.1,102.7L567.0,102.2L567.8,101.8L568.6,101.5L569.4,101.4L570.1,101.5L570.8,101.9L571.5,102.5L572.2,103.4L572.8,104.5L573.4,105.6L574.0,106.8L574.6,107.8L575.3,108.6L575.9,109.2L576.6,109.5L577.3,109.4L578.1,108.9L578.8,108.2L579.6,107.3L580.4,106.3L581.2,105.3L582.0,104.4L582.8,103.7L583.5,103.2L584.3,103.1L585.1,103.4L585.9,104.1L586.7,105.2L587.5,106.4L588.2,107.8L589.0,109.1L589.8,110.3L590.5,111.3L591.3,111.9L592.0,112.1L592.8,111.7L593.6,110.9L594.3,109.7L595.0,108.2L595.7,106.5L596.4,104.8L597.2,103.0L598.0,101.5L598.8,100.2L599.7,99.2L600.4,98.7L601.2,98.4L601.9,98.2L602.8,98.0L603.6,97.9L604.4,97.8L605.2,97.6L606.0,97.4L606.8,97.1L607.5,96.6L608.5,95.7L609.5,94.6L610.5,93.3L611.4,91.8L612.3,90.3L613.2,88.7L614.1,87.1L614.9,85.5L615.7,83.9L616.5,82.5L617.2,81.1L617.8,79.6L618.4,78.0L619.0,76.3L619.6,74.8L620.2,73.3L620.7,72.0L621.3,71.0L621.8,70.4L622.3,70.2L622.8,70.4L623.3,71.1L623.8,72.1L624.2,73.3L624.7,74.8L625.1,76.3L625.6,78.0L626.0,79.6L626.4,81.1L626.8,82.5L627.2,84.0L627.5,85.6L627.8,87.3L628.0,89.0L628.3,90.8L628.6,92.4L629.0,93.9L629.4,95.3L629.9,96.4L630.6,97.3L631.1,97.7L631.7,98.0L632.3,98.1L633.0,98.2L633.6,98.2L634.3,98.3L635.0,98.3L635.7,98.3L636.4,98.4L637.1,98.6L637.9,98.9L638.6,99.2L639.4,99.6L640.2,99.9L641.0,100.3L641.8,100.8L642.6,101.2L643.4,101.6L644.2,102.1L645.0,102.5L646.0,103.0L646.9,103.6L647.9,104.1L648.9,104.7L649.9,105.3L650.9,105.8L651.9,106.4L653.0,107.0L654.0,107.5L655.0,108.0L656.0,108.5L656.9,108.9L657.9,109.4L658.9,109.9L659.8,110.3L660.8,110.8L661.8,111.1L662.8,111.5L663.9,111.8L665.0,112.0L666.3,112.2L667.7,112.3L669.2,112.3L670.7,112.2L672.2,112.1L673.7,112.0L675.3,111.8L676.8,111.7L678.3,111.6L679.8,111.5L679.80,129.50L678.6,129.3L677.4,129.1L676.2,128.9L675.0,128.6L673.8,128.4L672.6,128.2L671.4,128.0L670.3,127.9L669.1,127.9L668.0,128.0L666.9,128.2L665.9,128.6L664.9,129.2L663.9,129.8L662.9,130.4L661.9,131.0L660.9,131.5L659.9,131.9L659.0,132.0L658.0,132.0L657.0,131.6L655.9,130.8L655.0,129.8L654.0,128.6L653.0,127.3L652.1,125.9L651.1,124.7L650.1,123.7L649.1,122.9L648.0,122.5L647.0,122.4L645.9,122.5L644.9,122.8L643.8,123.2L642.7,123.7L641.6,124.3L640.5,124.9L639.4,125.6L638.4,126.2L637.4,126.7L636.6,127.2L635.7,127.7L634.9,128.2L634.2,128.7L633.4,129.3L632.7,129.8L631.9,130.4L631.1,130.9L630.4,131.4L629.6,131.9L628.8,132.3L628.1,132.8L627.3,133.2L626.6,133.6L625.8,134.0L625.0,134.4L624.2,134.8L623.5,135.1L622.7,135.4L621.9,135.7L621.1,135.9L620.3,136.0L619.5,136.1L618.7,136.1L617.9,136.1L617.1,136.2L616.3,136.2L615.6,136.4L614.8,136.6L614.2,137.0L613.5,137.6L612.9,138.2L612.4,139.0L611.8,139.8L611.4,140.7L610.9,141.7L610.5,142.7L610.0,143.8L609.6,144.9L609.1,146.0L608.4,147.8L607.7,149.7L607.0,151.7L606.4,153.9L605.7,156.2L605.1,158.5L604.5,160.8L603.8,163.2L603.2,165.6L602.6,167.9L601.9,170.5L601.3,173.2L600.6,175.9L600.0,178.6L599.4,181.4L598.7,184.2L598.1,187.0L597.5,189.7L596.9,192.4L596.3,195.0L595.8,197.3L595.2,199.6L594.7,201.9L594.1,204.2L593.6,206.4L593.1,208.7L592.5,210.9L592.0,213.1L591.5,215.3L591.0,217.5L590.5,219.7L590.1,221.9L589.6,224.2L589.1,226.5L588.7,228.7L588.2,230.9L587.8,233.0L587.4,235.0L586.9,236.8L586.5,238.5L586.2,239.5L586.0,240.5L585.7,241.5L585.5,242.5L585.2,243.5L585.0,244.3L584.7,245.0L584.5,245.5L584.2,245.9L584.0,246.0L583.6,245.6L583.2,244.5L582.9,242.8L582.5,240.7L582.2,238.2L581.8,235.5L581.5,232.7L581.1,230.0L580.8,227.4L580.5,225.0L580.2,222.6L579.8,220.2L579.5,217.8L579.2,215.3L578.8,212.8L578.5,210.3L578.2,207.8L578.0,205.2L577.7,202.6L577.5,200.0L577.3,196.9L577.1,193.8L577.0,190.6L576.9,187.3L576.9,184.0L576.8,180.7L576.7,177.4L576.6,174.2L576.4,171.0L576.2,167.9L576.0,165.2L575.7,162.5L575.4,159.9L575.1,157.2L574.8,154.6L574.5,152.1L574.1,149.5L573.8,147.0L573.4,144.6L573.0,142.2L572.7,140.1L572.4,137.9L572.2,135.8L571.9,133.6L571.6,131.5L571.3,129.5L570.9,127.6L570.5,125.8L569.9,124.3L569.2,122.9L568.7,122.1L568.1,121.3L567.4,120.5L566.7,119.8L566.0,119.2L565.3,118.6L564.6,118.2L563.9,117.9L563.3,117.7L562.7,117.7L562.2,117.9L561.6,118.3L561.2,118.9L560.7,119.6L560.3,120.4L559.8,121.3L559.4,122.2L558.9,123.1L558.4,123.9L557.9,124.6L557.3,125.3L556.8,126.1L556.2,126.9L555.6,127.7L555.0,128.4L554.4,129.2L553.7,129.8L553.0,130.4L552.3,130.8L551.5,131.1L550.4,131.2L549.3,131.1L548.0,130.9L546.7,130.5L545.4,130.0L544.0,129.4L542.6,128.8L541.3,128.2L539.9,127.6L538.6,127.2L537.3,126.8L535.9,126.4L534.6,126.0L533.2,125.6L531.8,125.2L530.5,124.8L529.2,124.5L527.9,124.1L526.8,123.7L525.7,123.4L525.0,123.2L524.5,123.0L523.9,122.8L523.4,122.5L522.9,122.3L522.4,122.1L521.9,122.0L521.3,121.8L520.7,121.6L520.0,121.5L518.8,121.3L517.5,121.2L516.0,121.2L514.5,121.2L512.9,121.2L511.3,121.2L509.6,121.2L508.0,121.2L506.5,121.1L505.0,121.0L503.6,120.8L502.3,120.6L500.9,120.3L499.6,120.0L498.2,119.7L496.9,119.4L495.6,119.1L494.4,119.0L493.2,118.9L492.0,119.0L491.1,119.2L490.3,119.5L489.4,119.8L488.6,120.3L487.9,120.7L487.1,121.2L486.4,121.6L485.6,122.0L484.8,122.3L484.0,122.5L483.2,122.6L482.4,122.6L481.7,122.6L480.9,122.5L480.1,122.4L479.3,122.3L478.5,122.2L477.7,122.1L476.9,122.0L476.0,122.0L474.9,122.1L473.8,122.2L472.7,122.5L471.5,122.7L470.3,123.0L469.2,123.2L468.0,123.3L466.9,123.4L465.9,123.3L465.0,123.0L464.2,122.5L463.6,121.9L462.9,121.1L462.4,120.2L461.8,119.3L461.3,118.3L460.8,117.4L460.2,116.7L459.6,116.1L458.9,115.7L458.3,115.5L457.6,115.5L456.9,115.5L456.2,115.7L455.4,115.8L454.7,116.1L453.9,116.3L453.2,116.6L452.4,116.9L451.7,117.1L450.9,117.4L450.0,117.8L449.1,118.2L448.3,118.7L447.4,119.2L446.5,119.7L445.6,120.1L444.8,120.4L443.9,120.6L443.1,120.7L442.4,120.6L441.7,120.4L441.0,120.1L440.3,119.7L439.6,119.3L438.9,118.9L438.2,118.5L437.5,118.2L436.7,118.0L436.0,117.9L435.1,118.0L434.2,118.3L433.2,118.6L432.3,119.1L431.3,119.6L430.3,120.2L429.4,120.7L428.4,121.2L427.5,121.5L426.7,121.8L426.1,121.9L425.6,122.0L425.0,122.0L424.5,122.1L424.0,122.1L423.5,122.1L423.0,122.1L422.4,122.1L421.9,122.1L421.4,122.1Z" fill="#898989"/>
<line x1="406.10" y1="113.00" x2="692.70" y2="113.00" stroke="#333" stroke-width="1.2" stroke-dasharray="5,5.4"/>
<line x1="458.57" y1="48.20" x2="458.57" y2="311.30" stroke="#333" stroke-width="1.2" stroke-dasharray="5,5.4"/>
<path d="M421.40,116.80L422.0,116.8L422.6,116.8L423.2,116.8L423.7,116.8L424.3,116.7L424.9,116.7L425.5,116.7L426.1,116.6L426.8,116.5L427.4,116.4L428.3,116.1L429.3,115.7L430.3,115.2L431.3,114.6L432.3,114.1L433.3,113.5L434.4,113.0L435.4,112.6L436.4,112.2L437.4,112.1L438.3,112.1L439.2,112.3L440.1,112.6L441.0,113.0L441.9,113.4L442.7,113.8L443.6,114.2L444.4,114.5L445.2,114.6L446.0,114.6L446.6,114.4L447.2,114.2L447.8,113.8L448.4,113.4L448.9,113.0L449.4,112.5L450.0,112.0L450.5,111.6L451.1,111.1L451.7,110.7L452.4,110.3L453.1,109.9L453.8,109.5L454.5,109.2L455.2,108.8L456.0,108.4L456.7,108.0L457.5,107.6L458.2,107.2L458.9,106.8L459.6,106.3L460.4,105.7L461.1,105.2L461.8,104.5L462.5,103.9L463.3,103.3L464.0,102.8L464.8,102.3L465.5,101.8L466.3,101.5L467.1,101.2L467.8,101.0L468.7,100.9L469.5,100.8L470.3,100.7L471.1,100.6L471.9,100.6L472.7,100.7L473.5,100.7L474.2,100.8L474.8,100.9L475.3,101.0L475.9,101.2L476.4,101.4L476.9,101.6L477.4,101.8L477.9,102.0L478.4,102.3L478.9,102.5L479.4,102.8L479.9,103.1L480.4,103.5L480.9,104.0L481.4,104.4L481.9,104.9L482.4,105.3L482.9,105.7L483.4,106.1L483.9,106.4L484.5,106.6L485.1,106.7L485.7,106.7L486.3,106.6L487.0,106.5L487.6,106.3L488.3,106.2L488.9,106.0L489.6,105.9L490.3,105.9L490.9,106.0L491.6,106.2L492.3,106.5L492.9,106.9L493.6,107.4L494.3,107.9L494.9,108.4L495.6,108.9L496.4,109.3L497.2,109.7L498.0,110.0L499.2,110.2L500.5,110.3L501.9,110.4L503.3,110.3L504.8,110.2L506.3,110.1L507.8,110.0L509.2,110.0L510.6,109.9L512.0,110.0L513.2,110.1L514.4,110.2L515.5,110.3L516.7,110.4L517.8,110.6L518.9,110.8L520.0,111.0L521.1,111.2L522.2,111.5L523.2,111.8L524.2,112.2L525.1,112.6L526.0,113.0L526.9,113.5L527.7,114.0L528.6,114.6L529.5,115.1L530.4,115.5L531.3,115.9L532.2,116.3L533.2,116.6L534.2,116.8L535.2,117.0L536.3,117.2L537.3,117.3L538.4,117.5L539.4,117.6L540.5,117.8L541.5,118.0L542.5,118.2L543.4,118.5L544.4,118.9L545.4,119.4L546.3,119.8L547.3,120.3L548.2,120.7L549.1,121.1L549.9,121.3L550.7,121.4L551.5,121.4L552.1,121.2L552.7,120.9L553.2,120.5L553.7,120.0L554.2,119.5L554.7,119.0L555.1,118.4L555.6,117.9L556.1,117.4L556.6,116.9L557.1,116.5L557.6,116.0L558.1,115.6L558.6,115.2L559.1,114.7L559.6,114.3L560.1,113.9L560.7,113.6L561.2,113.3L561.8,113.1L562.5,112.9L563.2,112.7L564.0,112.6L564.8,112.5L565.6,112.4L566.4,112.4L567.2,112.5L567.9,112.6L568.6,112.9L569.2,113.2L569.8,113.8L570.4,114.6L570.8,115.5L571.2,116.5L571.5,117.7L571.8,118.9L572.1,120.2L572.4,121.5L572.7,122.9L573.0,124.2L573.5,126.1L573.9,128.1L574.3,130.2L574.7,132.4L575.1,134.7L575.5,137.0L575.8,139.3L576.2,141.6L576.5,143.8L576.9,146.0L577.2,148.1L577.5,150.3L577.8,152.5L578.1,154.8L578.3,157.0L578.6,159.1L578.9,161.2L579.2,163.2L579.6,165.0L580.1,166.6L580.4,167.6L580.7,168.7L581.1,169.7L581.4,170.7L581.8,171.7L582.2,172.5L582.6,173.2L583.0,173.8L583.5,174.2L584.0,174.4L584.7,174.3L585.5,173.9L586.3,173.2L587.2,172.4L588.1,171.3L589.0,170.1L589.9,168.9L590.8,167.7L591.6,166.4L592.3,165.3L593.0,164.1L593.6,162.8L594.2,161.4L594.7,160.0L595.2,158.6L595.6,157.1L596.1,155.6L596.5,154.1L597.0,152.7L597.5,151.2L598.0,149.7L598.5,148.1L599.0,146.6L599.4,145.0L599.9,143.4L600.4,141.8L600.9,140.3L601.4,138.7L602.0,137.2L602.6,135.7L603.3,134.2L604.0,132.8L604.8,131.3L605.6,129.9L606.4,128.4L607.2,127.0L608.0,125.6L608.8,124.3L609.6,122.9L610.3,121.6L610.9,120.5L611.4,119.4L612.0,118.4L612.5,117.3L613.0,116.3L613.5,115.3L614.0,114.3L614.5,113.3L615.0,112.4L615.5,111.5L615.9,110.8L616.2,110.1L616.6,109.5L616.9,108.8L617.2,108.2L617.6,107.6L617.9,107.0L618.3,106.5L618.6,106.0L619.0,105.5L619.3,105.2L619.6,104.9L619.9,104.5L620.2,104.2L620.5,104.0L620.8,103.7L621.1,103.5L621.4,103.4L621.7,103.2L622.0,103.2L622.3,103.2L622.6,103.3L622.9,103.4L623.2,103.5L623.5,103.7L623.8,104.0L624.1,104.2L624.4,104.5L624.7,104.7L625.0,105.0L625.4,105.4L625.7,105.9L626.1,106.4L626.4,107.0L626.8,107.6L627.1,108.2L627.4,108.8L627.8,109.4L628.1,110.0L628.5,110.5L628.8,111.0L629.1,111.4L629.5,111.9L629.8,112.4L630.1,112.8L630.4,113.3L630.8,113.6L631.2,114.0L631.6,114.2L632.0,114.4L632.6,114.5L633.2,114.4L633.9,114.3L634.5,114.1L635.3,113.8L636.0,113.5L636.8,113.2L637.5,112.9L638.3,112.6L639.0,112.5L639.8,112.4L640.6,112.3L641.4,112.2L642.3,112.1L643.1,112.1L643.9,112.1L644.8,112.1L645.5,112.2L646.3,112.3L647.0,112.5L647.6,112.7L648.1,113.0L648.6,113.3L649.1,113.7L649.6,114.0L650.1,114.4L650.5,114.8L651.0,115.2L651.5,115.6L652.0,116.0L652.6,116.4L653.2,116.8L653.8,117.3L654.4,117.7L655.0,118.2L655.6,118.6L656.2,119.0L656.8,119.4L657.4,119.7L658.0,120.0L658.5,120.2L659.0,120.4L659.5,120.5L660.0,120.7L660.5,120.8L660.9,120.9L661.4,120.9L662.0,121.0L662.5,121.0L663.0,121.0L663.6,120.9L664.3,120.8L665.0,120.6L665.7,120.3L666.3,120.0L667.1,119.8L667.8,119.5L668.5,119.3L669.2,119.1L670.0,119.0L670.9,119.0L671.8,119.0L672.8,119.1L673.8,119.2L674.8,119.4L675.8,119.5L676.8,119.7L677.8,119.9L678.8,120.1L679.8,120.2" fill="none" stroke="#000" stroke-width="2.7" stroke-linejoin="round" stroke-linecap="butt"/>
<path d="M408.57,28.40L408.57,311.30L692.00,311.30" fill="none" stroke="#1c1c1c" stroke-width="1.4" stroke-linejoin="round" stroke-linecap="round"/>
<line x1="405.27" y1="45.00" x2="408.57" y2="45.00" stroke="#333" stroke-width="1.1"/>
<text x="402.37" y="48.80" text-anchor="end" font-size="10.7" fill="#4d4d4d">2.00</text>
<line x1="405.27" y1="113.00" x2="408.57" y2="113.00" stroke="#333" stroke-width="1.1"/>
<text x="402.37" y="116.80" text-anchor="end" font-size="10.7" fill="#4d4d4d">0.00</text>
<line x1="405.27" y1="181.00" x2="408.57" y2="181.00" stroke="#333" stroke-width="1.1"/>
<text x="402.37" y="184.80" text-anchor="end" font-size="10.7" fill="#4d4d4d">−2.00</text>
<line x1="405.27" y1="249.00" x2="408.57" y2="249.00" stroke="#333" stroke-width="1.1"/>
<text x="402.37" y="252.80" text-anchor="end" font-size="10.7" fill="#4d4d4d">−4.00</text>
<line x1="458.57" y1="311.30" x2="458.57" y2="314.60" stroke="#333" stroke-width="1.1"/>
<text x="458.57" y="325.70" text-anchor="middle" font-size="10.9" fill="#4d4d4d">0</text>
<line x1="532.87" y1="311.30" x2="532.87" y2="314.60" stroke="#333" stroke-width="1.1"/>
<text x="532.87" y="325.70" text-anchor="middle" font-size="10.9" fill="#4d4d4d">2</text>
<line x1="607.17" y1="311.30" x2="607.17" y2="314.60" stroke="#333" stroke-width="1.1"/>
<text x="607.17" y="325.70" text-anchor="middle" font-size="10.9" fill="#4d4d4d">4</text>
<line x1="681.47" y1="311.30" x2="681.47" y2="314.60" stroke="#333" stroke-width="1.1"/>
<text x="681.47" y="325.70" text-anchor="middle" font-size="10.9" fill="#4d4d4d">6</text>
<text x="551.03" y="340.50" text-anchor="middle" font-size="13.7" fill="#000">Time (s)</text>
<text transform="translate(365.50,169.50) rotate(-90)" text-anchor="middle" font-size="13.5" fill="#000">&#946;<tspan font-size="8.8" dx="0.7" dy="2.4">1</tspan><tspan dy="-2.4">(s)</tspan></text>
<text x="550.63" y="17.70" text-anchor="middle" font-size="15.7" font-weight="bold" fill="#000">Mean Change: 2nd−1st Session</text>
<text x="350.70" y="23.40" font-size="19" fill="#000">B</text>
<line x1="459.57" y1="44.20" x2="495.22" y2="44.20" stroke="#d6112c" stroke-width="2.6"/>
<text x="477.39" y="40.20" text-anchor="middle" font-size="11" fill="#d6112c">Early</text>
<line x1="496.72" y1="44.20" x2="532.37" y2="44.20" stroke="#1b67b5" stroke-width="2.6"/>
<text x="514.54" y="40.20" text-anchor="middle" font-size="11" fill="#1b67b5">Mid</text>
<line x1="533.87" y1="44.20" x2="569.52" y2="44.20" stroke="#eaa215" stroke-width="2.6"/>
<text x="551.69" y="40.20" text-anchor="middle" font-size="11" fill="#eaa215">Late</text>
<path d="M71.00,492.10L71.9,492.0L72.9,492.0L73.8,492.0L74.8,492.0L75.8,492.0L76.7,491.9L77.6,491.9L78.6,491.8L79.4,491.6L80.3,491.4L81.1,491.1L81.8,490.7L82.5,490.3L83.2,489.9L83.9,489.4L84.6,488.9L85.3,488.4L86.0,488.0L86.7,487.7L87.4,487.5L88.1,487.4L88.8,487.4L89.6,487.4L90.3,487.5L91.1,487.6L91.8,487.7L92.6,487.8L93.3,487.9L94.0,487.9L94.6,487.9L95.1,487.9L95.5,487.8L96.0,487.7L96.4,487.6L96.8,487.4L97.2,487.3L97.6,487.2L98.0,487.2L98.5,487.1L98.9,487.1L99.4,487.2L100.0,487.3L100.6,487.4L101.2,487.6L101.8,487.9L102.4,488.1L103.0,488.3L103.6,488.4L104.1,488.6L104.6,488.6L104.9,488.6L105.3,488.6L105.6,488.6L105.9,488.6L106.2,488.6L106.5,488.5L106.8,488.4L107.1,488.3L107.4,488.1L107.6,487.9L108.1,487.2L108.4,486.2L108.7,485.0L108.9,483.6L109.0,482.0L109.2,480.4L109.3,478.7L109.4,476.9L109.5,475.2L109.7,473.6L109.9,471.6L110.2,469.6L110.4,467.6L110.6,465.5L110.8,463.3L111.0,461.1L111.2,458.9L111.5,456.7L111.7,454.4L111.9,452.1L112.2,449.4L112.4,446.6L112.7,443.7L112.9,440.8L113.2,437.9L113.5,435.0L113.8,432.0L114.1,429.2L114.4,426.3L114.7,423.6L115.0,421.0L115.3,418.1L115.6,415.1L115.9,412.1L116.2,409.2L116.5,406.6L116.9,404.2L117.3,402.4L117.8,401.2L118.3,400.7L118.7,400.8L119.1,401.2L119.5,401.8L119.9,402.6L120.4,403.6L120.8,404.7L121.3,405.9L121.7,407.1L122.2,408.2L122.6,409.3L123.2,410.9L123.8,412.6L124.3,414.4L124.9,416.2L125.5,418.2L126.0,420.2L126.6,422.1L127.2,424.1L127.7,426.0L128.3,427.9L128.9,429.6L129.4,431.4L130.0,433.1L130.5,434.9L131.1,436.6L131.7,438.3L132.2,440.0L132.8,441.7L133.4,443.4L134.0,445.0L134.5,446.5L135.1,448.0L135.6,449.5L136.2,451.0L136.8,452.4L137.3,453.9L137.9,455.3L138.5,456.7L139.1,458.0L139.7,459.3L140.2,460.4L140.8,461.6L141.3,462.7L141.9,463.9L142.4,465.0L143.0,466.0L143.5,467.0L144.1,467.9L144.8,468.7L145.4,469.3L145.8,469.6L146.2,469.9L146.7,470.1L147.1,470.3L147.5,470.5L148.0,470.6L148.5,470.7L148.9,470.8L149.5,470.9L150.0,471.0L150.9,471.1L151.8,471.0L152.8,470.9L153.9,470.8L154.9,470.6L156.0,470.5L157.1,470.3L158.1,470.3L159.1,470.3L160.0,470.5L160.7,470.7L161.4,471.0L162.0,471.4L162.6,471.8L163.2,472.2L163.7,472.6L164.3,473.1L164.9,473.6L165.4,474.0L166.0,474.5L166.6,475.0L167.2,475.7L167.8,476.3L168.3,477.0L168.9,477.7L169.5,478.3L170.1,478.9L170.7,479.4L171.3,479.8L172.0,480.0L172.7,480.0L173.5,479.8L174.3,479.5L175.1,479.0L176.0,478.5L176.8,478.0L177.7,477.6L178.5,477.2L179.3,477.0L180.0,477.0L180.7,477.2L181.3,477.4L181.9,477.8L182.4,478.3L183.0,478.8L183.6,479.4L184.1,479.9L184.7,480.5L185.3,481.0L186.0,481.5L186.8,482.0L187.7,482.6L188.5,483.2L189.4,483.8L190.3,484.3L191.2,484.9L192.2,485.5L193.1,486.0L194.1,486.5L195.0,487.0L196.0,487.5L197.0,488.0L198.0,488.5L199.0,488.9L200.0,489.4L201.1,489.8L202.1,490.2L203.1,490.5L204.1,490.8L205.0,491.0L205.8,491.1L206.5,491.3L207.3,491.4L208.0,491.6L208.7,491.6L209.5,491.7L210.1,491.6L210.8,491.5L211.4,491.3L212.0,491.0L212.7,490.4L213.2,489.7L213.8,488.8L214.2,487.8L214.6,486.7L215.0,485.5L215.4,484.3L215.8,483.0L216.2,481.8L216.6,480.5L217.2,478.6L217.7,476.3L218.2,473.8L218.6,471.1L219.1,468.5L219.6,466.0L220.1,463.8L220.6,462.1L221.1,460.9L221.7,460.4L222.1,460.5L222.4,461.0L222.8,461.6L223.1,462.5L223.5,463.4L223.9,464.3L224.3,465.2L224.7,465.9L225.2,466.5L225.7,466.7L226.5,466.5L227.3,465.8L228.3,464.8L229.2,463.5L230.3,462.2L231.3,460.8L232.3,459.5L233.2,458.5L234.1,457.8L234.9,457.6L235.5,457.8L236.0,458.2L236.5,458.7L236.9,459.4L237.4,460.2L237.8,461.1L238.2,462.0L238.6,462.9L239.1,463.7L239.5,464.5L240.0,465.3L240.4,466.2L240.8,467.2L241.3,468.2L241.7,469.1L242.2,470.0L242.6,470.8L243.1,471.4L243.5,471.8L244.0,471.9L244.6,471.6L245.2,470.6L245.8,469.3L246.5,467.7L247.1,465.9L247.8,464.1L248.4,462.5L249.0,461.2L249.7,460.3L250.3,459.9L250.8,460.0L251.4,460.5L251.9,461.1L252.4,461.9L253.0,462.9L253.5,463.9L254.0,465.0L254.5,466.1L255.0,467.0L255.5,467.9L255.9,468.6L256.2,469.4L256.5,470.3L256.9,471.1L257.2,471.9L257.5,472.7L257.8,473.3L258.2,473.9L258.6,474.3L259.0,474.5L259.5,474.5L260.0,474.3L260.6,474.0L261.2,473.5L261.9,473.0L262.5,472.4L263.2,471.7L263.8,471.1L264.4,470.5L265.0,470.0L265.6,469.5L266.1,468.8L266.7,468.2L267.3,467.5L267.8,466.8L268.4,466.2L268.9,465.7L269.5,465.3L270.0,465.0L270.5,465.0L271.1,465.3L271.7,465.8L272.2,466.6L272.8,467.6L273.3,468.7L273.8,469.8L274.3,471.0L274.9,472.1L275.4,473.2L276.0,474.0L276.5,474.6L277.0,475.3L277.5,475.9L278.0,476.6L278.5,477.2L279.0,477.7L279.5,478.2L280.0,478.6L280.5,478.8L281.0,479.0L281.4,479.0L281.8,478.8L282.2,478.6L282.6,478.3L283.0,478.0L283.4,477.6L283.8,477.4L284.2,477.1L284.6,477.0L285.0,477.0L285.5,477.2L286.0,477.6L286.5,478.1L287.0,478.8L287.5,479.5L288.0,480.2L288.5,481.0L289.0,481.7L289.5,482.4L290.0,483.0L290.5,483.5L291.0,483.9L291.5,484.4L291.9,484.8L292.4,485.2L292.9,485.6L293.5,486.0L294.0,486.3L294.5,486.7L295.0,487.0L295.5,487.3L296.0,487.6L296.5,487.8L296.9,488.1L297.4,488.3L297.9,488.5L298.4,488.7L299.0,488.8L299.5,488.9L300.0,489.0L300.6,489.0L301.1,488.9L301.7,488.7L302.3,488.5L302.9,488.2L303.5,488.0L304.1,487.7L304.7,487.6L305.4,487.5L306.0,487.5L306.8,487.7L307.7,488.1L308.6,488.6L309.5,489.2L310.4,489.9L311.3,490.5L312.2,491.1L313.1,491.6L314.1,491.9L315.0,492.0L316.0,491.9L317.0,491.6L318.1,491.2L319.2,490.6L320.2,490.0L321.3,489.3L322.3,488.6L323.3,488.0L324.2,487.5L325.0,487.0L325.5,486.8L325.9,486.5L326.3,486.3L326.7,486.1L327.1,485.9L327.5,485.8L327.9,485.6L328.2,485.4L328.6,485.2L329.0,485.0L329.00,505.50L328.4,505.4L327.8,505.2L327.2,505.1L326.6,504.9L326.0,504.7L325.4,504.6L324.8,504.5L324.2,504.4L323.6,504.4L323.0,504.5L322.2,504.7L321.5,505.0L320.7,505.5L319.9,506.0L319.1,506.5L318.3,507.1L317.5,507.7L316.7,508.2L315.9,508.6L315.0,509.0L314.1,509.3L313.1,509.6L312.1,509.9L311.0,510.1L310.0,510.4L309.0,510.5L307.9,510.6L306.9,510.7L305.9,510.6L305.0,510.5L304.1,510.2L303.3,509.8L302.5,509.3L301.7,508.7L300.9,508.0L300.2,507.4L299.4,506.9L298.6,506.4L297.8,506.1L297.0,506.0L296.1,506.1L295.1,506.4L294.2,506.8L293.2,507.4L292.3,508.0L291.3,508.7L290.3,509.5L289.3,510.2L288.4,510.9L287.4,511.6L286.4,512.3L285.4,513.0L284.3,513.7L283.3,514.5L282.3,515.3L281.3,516.0L280.3,516.8L279.2,517.6L278.2,518.5L277.1,519.3L275.8,520.2L274.5,521.2L273.2,522.2L271.8,523.1L270.4,524.1L269.1,525.2L267.7,526.2L266.5,527.3L265.3,528.4L264.2,529.6L263.2,530.8L262.4,531.9L261.5,533.1L260.8,534.4L260.0,535.6L259.3,536.9L258.6,538.2L257.9,539.6L257.2,541.0L256.5,542.5L255.5,544.4L254.5,546.5L253.5,548.7L252.5,550.9L251.5,553.2L250.5,555.5L249.6,557.8L248.8,560.0L248.1,562.2L247.5,564.3L247.1,565.9L246.8,567.5L246.6,569.0L246.4,570.5L246.2,572.0L246.1,573.6L246.0,575.1L245.8,576.7L245.7,578.3L245.5,580.0L245.2,582.3L244.9,584.6L244.7,587.1L244.4,589.6L244.1,592.1L243.8,594.7L243.5,597.3L243.1,599.9L242.8,602.5L242.5,605.0L242.2,607.5L241.9,610.1L241.5,612.7L241.2,615.3L240.9,617.9L240.5,620.4L240.2,622.9L239.8,625.4L239.4,627.7L239.0,630.0L238.6,631.9L238.3,634.0L237.9,636.1L237.5,638.2L237.0,640.3L236.6,642.1L236.2,643.7L235.8,644.9L235.4,645.7L235.0,646.0L234.4,645.3L233.9,643.3L233.3,640.3L232.8,636.6L232.2,632.3L231.7,627.6L231.2,622.8L230.8,618.1L230.4,613.8L230.0,610.0L229.7,606.9L229.5,603.8L229.4,600.8L229.2,597.8L229.1,594.8L229.0,591.8L228.9,588.9L228.8,585.9L228.7,583.0L228.5,580.0L228.3,577.1L228.1,574.2L227.9,571.3L227.6,568.5L227.4,565.6L227.1,562.8L226.9,559.9L226.7,557.1L226.4,554.3L226.2,551.5L226.0,548.8L225.8,546.1L225.6,543.4L225.5,540.6L225.3,537.9L225.1,535.3L224.9,532.7L224.8,530.2L224.5,527.9L224.3,525.7L224.1,524.3L224.0,522.9L223.8,521.6L223.7,520.3L223.5,519.1L223.3,517.9L223.1,516.8L222.9,515.7L222.6,514.6L222.3,513.6L222.0,512.8L221.8,511.9L221.5,511.1L221.2,510.3L220.9,509.5L220.6,508.8L220.2,508.1L219.8,507.6L219.4,507.1L218.9,506.8L218.4,506.6L217.7,506.6L217.1,506.7L216.4,506.9L215.6,507.1L214.9,507.4L214.1,507.7L213.4,508.0L212.7,508.3L212.0,508.5L211.4,508.7L210.8,508.9L210.2,509.1L209.6,509.3L209.0,509.5L208.4,509.7L207.8,509.8L207.2,509.9L206.6,510.0L206.0,510.0L205.4,510.0L204.8,509.9L204.2,509.7L203.6,509.6L203.1,509.4L202.5,509.2L201.9,508.9L201.3,508.6L200.6,508.3L200.0,508.0L199.1,507.5L198.1,506.9L197.2,506.2L196.2,505.5L195.1,504.7L194.1,503.9L193.1,503.1L192.1,502.4L191.0,501.6L190.0,501.0L189.0,500.4L188.0,499.8L187.0,499.3L186.1,498.7L185.1,498.2L184.1,497.7L183.0,497.2L182.0,496.8L181.0,496.4L180.0,496.0L179.0,495.7L178.0,495.4L177.0,495.2L176.0,495.0L175.0,494.9L174.0,494.7L173.0,494.6L172.0,494.4L171.0,494.2L170.0,494.0L169.0,493.8L168.0,493.5L166.9,493.2L165.9,492.9L164.8,492.6L163.8,492.3L162.8,492.0L161.8,491.8L160.9,491.6L160.0,491.5L159.3,491.5L158.7,491.5L158.1,491.5L157.5,491.6L156.9,491.6L156.4,491.7L155.8,491.8L155.2,491.9L154.6,492.0L154.0,492.0L153.3,492.0L152.6,492.1L152.0,492.1L151.3,492.1L150.6,492.2L149.9,492.2L149.2,492.2L148.4,492.2L147.7,492.2L146.9,492.1L145.9,492.0L144.8,491.8L143.6,491.6L142.5,491.4L141.3,491.2L140.1,490.9L138.9,490.7L137.7,490.4L136.5,490.2L135.4,490.0L134.4,489.8L133.4,489.6L132.3,489.4L131.3,489.2L130.3,489.0L129.4,488.8L128.4,488.7L127.4,488.6L126.4,488.5L125.4,488.6L124.4,488.7L123.3,488.9L122.3,489.2L121.2,489.5L120.2,489.9L119.2,490.3L118.2,490.7L117.2,491.2L116.3,491.6L115.4,492.1L114.7,492.5L113.9,493.0L113.2,493.5L112.5,494.0L111.8,494.6L111.2,495.1L110.6,495.6L110.0,496.1L109.4,496.6L108.9,497.1L108.6,497.4L108.3,497.7L108.0,498.0L107.7,498.4L107.5,498.7L107.2,498.9L107.0,499.2L106.7,499.5L106.4,499.8L106.0,500.0L105.4,500.3L104.8,500.6L104.1,500.8L103.4,501.0L102.6,501.2L101.9,501.4L101.1,501.5L100.3,501.7L99.6,501.9L98.9,502.1L98.3,502.3L97.7,502.5L97.1,502.8L96.5,503.0L96.0,503.2L95.4,503.4L94.8,503.6L94.2,503.8L93.7,503.9L93.1,503.9L92.5,503.9L92.0,503.7L91.4,503.6L90.9,503.3L90.3,503.1L89.7,502.8L89.2,502.6L88.6,502.4L88.0,502.2L87.4,502.1L86.7,502.0L86.1,502.0L85.4,502.0L84.7,502.1L84.0,502.1L83.3,502.2L82.5,502.3L81.8,502.4L81.1,502.5L80.3,502.5L79.4,502.5L78.5,502.6L77.6,502.6L76.7,502.7L75.7,502.7L74.8,502.7L73.8,502.8L72.9,502.8L71.9,502.9L71.0,502.9Z" fill="#d6d6d6"/>
<path d="M71.00,494.60L71.9,494.5L72.9,494.5L73.8,494.5L74.8,494.4L75.7,494.4L76.7,494.3L77.6,494.3L78.5,494.2L79.4,494.1L80.3,493.9L81.1,493.7L81.8,493.5L82.5,493.2L83.2,492.9L83.9,492.6L84.6,492.3L85.3,492.0L86.0,491.7L86.7,491.5L87.4,491.4L88.1,491.3L88.8,491.3L89.5,491.3L90.2,491.4L90.9,491.4L91.6,491.5L92.3,491.6L93.1,491.7L93.8,491.8L94.6,491.8L95.6,491.8L96.6,491.9L97.7,492.0L98.8,492.0L99.9,492.1L101.0,492.1L102.0,492.2L103.0,492.2L103.8,492.2L104.6,492.1L105.0,492.1L105.3,492.1L105.6,492.0L105.9,492.0L106.2,492.0L106.4,492.0L106.7,491.9L106.9,491.8L107.2,491.6L107.4,491.4L107.9,490.6L108.4,489.3L108.8,487.8L109.1,486.0L109.3,484.0L109.5,481.9L109.7,479.8L110.0,477.6L110.2,475.6L110.4,473.6L110.7,471.5L110.9,469.5L111.1,467.3L111.3,465.2L111.5,463.1L111.7,460.9L111.9,458.7L112.2,456.5L112.4,454.3L112.6,452.1L112.9,449.7L113.1,447.2L113.3,444.6L113.6,442.0L113.8,439.4L114.1,436.8L114.4,434.3L114.7,432.0L115.0,429.9L115.4,427.9L115.6,426.7L115.9,425.5L116.1,424.2L116.4,423.0L116.6,421.9L116.9,420.8L117.2,420.0L117.6,419.3L117.9,418.8L118.3,418.6L118.8,418.7L119.3,419.2L119.8,419.9L120.4,420.8L121.0,421.9L121.6,423.1L122.3,424.4L122.9,425.6L123.4,426.8L124.0,427.9L124.6,429.1L125.2,430.3L125.7,431.5L126.3,432.8L126.9,434.1L127.4,435.4L128.0,436.7L128.5,438.0L129.1,439.4L129.7,440.7L130.4,442.2L131.1,443.8L131.8,445.3L132.6,446.9L133.3,448.5L134.0,450.2L134.8,451.8L135.5,453.3L136.2,454.9L136.9,456.4L137.5,457.8L138.1,459.1L138.7,460.5L139.2,461.9L139.8,463.3L140.3,464.6L140.9,465.9L141.4,467.1L142.0,468.2L142.6,469.3L143.0,470.0L143.4,470.7L143.8,471.4L144.2,472.0L144.6,472.7L145.0,473.2L145.4,473.8L145.9,474.2L146.4,474.7L146.9,475.0L147.5,475.3L148.2,475.4L148.8,475.6L149.6,475.6L150.3,475.6L151.1,475.6L151.8,475.6L152.6,475.6L153.3,475.5L154.0,475.5L154.6,475.5L155.2,475.4L155.8,475.3L156.4,475.2L157.0,475.1L157.6,475.0L158.2,474.9L158.8,474.9L159.4,474.9L160.0,475.0L160.7,475.2L161.4,475.5L162.1,475.8L162.8,476.2L163.5,476.7L164.3,477.1L165.0,477.6L165.6,478.1L166.3,478.6L167.0,479.0L167.6,479.5L168.2,480.0L168.8,480.5L169.4,481.1L170.0,481.6L170.6,482.1L171.1,482.6L171.7,483.0L172.4,483.3L173.0,483.5L173.7,483.5L174.3,483.4L175.0,483.2L175.8,482.9L176.5,482.5L177.2,482.2L177.9,481.9L178.6,481.6L179.3,481.5L180.0,481.5L180.6,481.6L181.2,481.8L181.8,482.1L182.4,482.5L183.0,482.8L183.6,483.3L184.1,483.7L184.7,484.1L185.4,484.6L186.0,485.0L186.8,485.5L187.7,486.1L188.5,486.7L189.4,487.4L190.3,488.0L191.2,488.7L192.2,489.3L193.1,489.9L194.1,490.5L195.0,491.0L196.0,491.5L197.0,492.0L198.0,492.5L199.0,493.0L200.0,493.5L201.1,493.9L202.1,494.3L203.1,494.6L204.1,494.8L205.0,495.0L205.8,495.1L206.5,495.1L207.3,495.2L208.0,495.1L208.7,495.1L209.4,495.0L210.1,494.8L210.8,494.6L211.4,494.3L212.0,494.0L212.6,493.5L213.2,492.9L213.7,492.3L214.1,491.5L214.6,490.7L215.0,489.9L215.4,489.0L215.8,488.1L216.2,487.1L216.6,486.2L217.2,484.8L217.7,483.2L218.2,481.4L218.7,479.5L219.2,477.6L219.7,475.8L220.2,474.3L220.7,473.0L221.2,472.2L221.7,471.9L222.1,472.1L222.5,472.6L222.9,473.3L223.3,474.3L223.7,475.5L224.1,476.7L224.5,478.0L224.9,479.3L225.3,480.5L225.7,481.6L226.1,482.7L226.5,484.0L226.9,485.2L227.3,486.5L227.7,487.7L228.1,489.0L228.6,490.1L229.1,491.2L229.7,492.2L230.3,493.1L230.9,493.7L231.5,494.2L232.2,494.7L232.9,495.1L233.6,495.5L234.4,495.9L235.1,496.2L235.9,496.5L236.5,496.8L237.2,497.1L237.7,497.3L238.2,497.6L238.6,497.9L239.1,498.2L239.6,498.4L240.0,498.6L240.5,498.8L240.9,498.9L241.3,498.9L241.7,498.8L242.1,498.6L242.5,498.2L242.9,497.8L243.2,497.2L243.5,496.6L243.9,495.9L244.2,495.2L244.5,494.5L244.8,493.8L245.2,493.1L245.7,492.0L246.3,490.7L246.8,489.3L247.4,487.8L247.9,486.3L248.5,484.9L249.1,483.7L249.7,482.7L250.3,481.9L250.9,481.6L251.3,481.6L251.8,481.8L252.3,482.1L252.7,482.5L253.2,483.0L253.7,483.5L254.2,484.0L254.6,484.6L255.1,485.1L255.5,485.5L255.9,485.9L256.2,486.3L256.6,486.8L256.9,487.2L257.2,487.7L257.5,488.1L257.9,488.4L258.2,488.7L258.6,488.9L259.0,489.0L259.5,488.9L260.1,488.7L260.7,488.3L261.3,487.8L261.9,487.2L262.5,486.5L263.2,485.9L263.8,485.2L264.4,484.6L265.0,484.0L265.6,483.4L266.1,482.8L266.7,482.0L267.3,481.3L267.8,480.6L268.4,479.9L268.9,479.4L269.4,478.9L270.0,478.6L270.5,478.5L271.0,478.6L271.4,478.8L271.9,479.2L272.3,479.7L272.7,480.2L273.2,480.8L273.6,481.4L274.1,482.0L274.5,482.5L275.0,483.0L275.5,483.4L276.0,483.9L276.4,484.4L276.9,484.9L277.4,485.4L277.9,485.9L278.4,486.3L279.0,486.6L279.5,486.9L280.0,487.0L280.5,487.0L281.0,486.9L281.5,486.6L282.0,486.3L282.5,486.0L283.0,485.7L283.5,485.4L284.0,485.1L284.5,485.0L285.0,485.0L285.5,485.1L286.0,485.4L286.5,485.8L287.0,486.2L287.5,486.7L288.0,487.2L288.5,487.7L289.0,488.2L289.5,488.6L290.0,489.0L290.5,489.3L290.9,489.7L291.4,490.0L291.9,490.4L292.3,490.7L292.8,491.0L293.3,491.3L293.9,491.5L294.4,491.8L295.0,492.0L295.8,492.2L296.8,492.4L297.7,492.5L298.7,492.6L299.8,492.6L300.8,492.7L301.9,492.7L302.9,492.8L304.0,492.9L305.0,493.0L306.0,493.2L307.0,493.4L308.0,493.7L309.0,494.0L310.0,494.4L311.0,494.6L312.0,494.9L313.0,495.0L314.0,495.1L315.0,495.0L316.0,494.8L317.1,494.4L318.2,493.9L319.2,493.3L320.3,492.6L321.3,492.0L322.3,491.3L323.3,490.8L324.2,490.3L325.0,490.0L325.5,489.9L325.9,489.8L326.3,489.7L326.7,489.7L327.1,489.6L327.5,489.6L327.8,489.6L328.2,489.6L328.6,489.5L329.0,489.5L329.00,501.00L328.1,501.1L327.2,501.1L326.2,501.2L325.3,501.2L324.3,501.2L323.4,501.3L322.5,501.4L321.6,501.5L320.8,501.7L320.0,502.0L319.3,502.3L318.7,502.8L318.1,503.3L317.5,503.8L317.0,504.4L316.4,504.9L315.9,505.5L315.3,505.9L314.7,506.3L314.0,506.5L313.2,506.6L312.4,506.6L311.5,506.6L310.6,506.4L309.6,506.2L308.7,505.9L307.7,505.7L306.8,505.4L305.9,505.2L305.0,505.0L304.2,504.8L303.4,504.6L302.6,504.4L301.8,504.2L301.1,504.0L300.3,503.8L299.5,503.6L298.7,503.5L297.9,503.5L297.0,503.5L295.9,503.7L294.7,503.9L293.5,504.3L292.3,504.8L291.1,505.3L289.8,505.9L288.6,506.4L287.4,507.0L286.2,507.5L285.0,508.0L284.0,508.4L282.9,508.8L281.9,509.1L280.9,509.4L279.9,509.8L279.0,510.2L278.0,510.6L277.0,511.0L276.0,511.5L275.0,512.0L273.8,512.7L272.5,513.5L271.3,514.3L270.0,515.2L268.7,516.1L267.5,517.1L266.3,518.1L265.1,519.0L264.0,520.0L263.0,521.0L262.2,521.9L261.4,522.7L260.6,523.6L259.9,524.5L259.2,525.4L258.5,526.3L257.9,527.2L257.2,528.2L256.6,529.1L256.0,530.0L255.5,530.8L254.9,531.6L254.5,532.4L254.0,533.2L253.5,534.0L253.1,534.9L252.6,535.7L252.2,536.6L251.8,537.6L251.3,538.6L250.6,540.2L249.9,541.9L249.2,543.7L248.5,545.6L247.9,547.6L247.2,549.7L246.5,551.7L245.9,553.8L245.4,555.9L244.9,557.9L244.5,560.0L244.1,562.2L243.8,564.4L243.5,566.7L243.3,568.9L243.1,571.2L242.8,573.4L242.6,575.6L242.3,577.8L242.0,580.0L241.7,582.1L241.3,584.2L240.9,586.4L240.5,588.6L240.1,590.7L239.7,592.8L239.3,594.8L238.9,596.7L238.5,598.4L238.0,600.0L237.7,600.9L237.4,601.9L237.1,602.8L236.8,603.8L236.5,604.6L236.2,605.4L235.9,606.1L235.6,606.6L235.3,606.9L235.0,607.0L234.7,606.8L234.4,606.4L234.1,605.7L233.7,604.8L233.4,603.8L233.1,602.7L232.8,601.5L232.5,600.3L232.3,599.1L232.0,598.0L231.6,596.5L231.3,594.9L231.0,593.2L230.6,591.5L230.3,589.7L230.0,587.8L229.8,585.9L229.5,584.0L229.2,582.0L229.0,580.0L228.7,577.4L228.5,574.7L228.3,571.9L228.1,569.0L228.0,566.1L227.8,563.1L227.7,560.2L227.5,557.2L227.4,554.3L227.2,551.5L227.0,548.8L226.8,546.1L226.7,543.3L226.5,540.6L226.3,537.9L226.1,535.2L225.9,532.5L225.7,530.0L225.5,527.4L225.2,525.0L225.0,523.0L224.8,520.9L224.6,518.8L224.4,516.8L224.2,514.8L224.0,512.9L223.7,511.1L223.3,509.5L222.9,508.0L222.3,506.8L221.9,506.2L221.5,505.6L221.1,505.1L220.7,504.6L220.2,504.1L219.7,503.8L219.2,503.4L218.7,503.2L218.2,502.9L217.7,502.8L217.2,502.7L216.6,502.8L216.1,502.9L215.5,503.1L214.9,503.3L214.3,503.6L213.8,503.8L213.2,504.1L212.6,504.3L212.0,504.5L211.4,504.7L210.8,504.9L210.2,505.1L209.6,505.3L209.0,505.5L208.4,505.7L207.8,505.8L207.2,505.9L206.6,506.0L206.0,506.0L205.4,506.0L204.8,505.9L204.2,505.7L203.6,505.6L203.1,505.4L202.5,505.2L201.9,504.9L201.3,504.6L200.6,504.3L200.0,504.0L199.1,503.5L198.1,502.9L197.2,502.2L196.2,501.5L195.1,500.7L194.1,499.9L193.1,499.1L192.1,498.4L191.0,497.6L190.0,497.0L189.0,496.4L188.0,495.8L187.0,495.3L186.1,494.7L185.1,494.2L184.1,493.7L183.1,493.2L182.0,492.7L181.0,492.4L180.0,492.0L179.0,491.7L178.0,491.5L177.0,491.4L176.0,491.2L175.0,491.1L174.0,491.1L173.0,491.0L172.0,490.8L171.0,490.7L170.0,490.5L169.0,490.3L167.9,490.0L166.9,489.7L165.9,489.4L164.8,489.1L163.8,488.7L162.8,488.4L161.8,488.1L160.9,487.8L160.0,487.5L159.3,487.3L158.7,487.1L158.1,486.9L157.4,486.6L156.8,486.4L156.3,486.2L155.7,486.0L155.1,485.9L154.6,485.7L154.0,485.5L153.5,485.4L153.1,485.3L152.7,485.2L152.3,485.1L151.9,485.0L151.5,484.9L151.1,484.8L150.6,484.6L150.2,484.5L149.7,484.3L148.9,484.0L148.1,483.5L147.3,483.1L146.5,482.5L145.6,482.0L144.7,481.4L143.8,480.9L142.9,480.3L142.0,479.8L141.1,479.3L140.3,478.8L139.4,478.4L138.5,477.9L137.7,477.4L136.8,476.9L136.0,476.5L135.1,476.1L134.3,475.7L133.4,475.3L132.6,475.0L131.9,474.8L131.1,474.5L130.4,474.4L129.7,474.2L129.0,474.0L128.3,473.9L127.6,473.8L126.8,473.7L126.1,473.6L125.4,473.6L124.7,473.6L124.0,473.5L123.2,473.5L122.5,473.5L121.8,473.5L121.1,473.5L120.4,473.6L119.7,473.8L119.0,474.0L118.3,474.3L117.4,474.8L116.5,475.5L115.6,476.3L114.7,477.2L113.9,478.2L113.0,479.2L112.3,480.3L111.5,481.4L110.9,482.5L110.4,483.6L110.0,484.8L109.8,486.2L109.6,487.6L109.6,489.1L109.6,490.6L109.6,492.1L109.6,493.4L109.5,494.6L109.2,495.6L108.9,496.4L108.7,496.7L108.4,496.9L108.2,497.1L107.9,497.3L107.6,497.4L107.3,497.5L107.0,497.6L106.7,497.7L106.4,497.8L106.0,497.9L105.4,498.1L104.8,498.2L104.1,498.3L103.4,498.4L102.6,498.4L101.8,498.5L101.1,498.6L100.3,498.7L99.6,498.8L98.9,498.9L98.3,499.0L97.7,499.2L97.1,499.4L96.5,499.6L96.0,499.8L95.4,500.0L94.8,500.2L94.2,500.3L93.7,500.4L93.1,500.4L92.5,500.3L92.0,500.2L91.4,500.0L90.8,499.8L90.3,499.5L89.7,499.3L89.2,499.1L88.6,498.8L88.0,498.7L87.4,498.6L86.7,498.6L86.1,498.6L85.4,498.7L84.7,498.8L84.0,499.0L83.3,499.1L82.5,499.3L81.8,499.4L81.1,499.5L80.3,499.6L79.4,499.6L78.5,499.7L77.6,499.7L76.7,499.7L75.7,499.7L74.8,499.7L73.8,499.6L72.9,499.6L71.9,499.6L71.0,499.6Z" fill="#898989"/>
<line x1="55.50" y1="495.10" x2="342.20" y2="495.10" stroke="#333" stroke-width="1.2" stroke-dasharray="5,5.4"/>
<line x1="108.00" y1="398.30" x2="108.00" y2="661.75" stroke="#333" stroke-width="1.2" stroke-dasharray="5,5.4"/>
<path d="M71.00,497.90L71.6,497.9L72.1,497.8L72.7,497.8L73.3,497.8L73.9,497.7L74.4,497.7L75.0,497.6L75.6,497.6L76.1,497.6L76.7,497.5L77.2,497.4L77.7,497.4L78.2,497.3L78.7,497.3L79.2,497.2L79.7,497.1L80.2,497.1L80.7,497.0L81.2,496.9L81.7,496.8L82.3,496.7L82.8,496.5L83.4,496.4L84.0,496.2L84.5,496.0L85.1,495.8L85.7,495.7L86.3,495.6L86.8,495.5L87.4,495.4L88.0,495.4L88.5,495.4L89.1,495.5L89.7,495.6L90.3,495.7L90.8,495.8L91.4,495.9L92.0,496.0L92.5,496.1L93.1,496.1L93.6,496.1L94.1,496.0L94.6,496.0L95.1,495.9L95.6,495.8L96.1,495.8L96.6,495.7L97.1,495.6L97.6,495.5L98.1,495.4L98.6,495.3L99.1,495.2L99.6,495.2L100.2,495.1L100.7,495.0L101.2,494.9L101.7,494.8L102.2,494.7L102.7,494.7L103.1,494.6L103.4,494.6L103.8,494.6L104.1,494.6L104.4,494.6L104.7,494.6L105.0,494.6L105.3,494.6L105.5,494.5L105.8,494.4L106.0,494.3L106.2,494.1L106.4,493.8L106.6,493.5L106.7,493.2L106.8,492.8L107.0,492.4L107.1,492.0L107.2,491.6L107.3,491.1L107.4,490.7L107.6,490.1L107.7,489.5L107.9,488.8L108.0,488.1L108.2,487.3L108.3,486.6L108.4,485.9L108.6,485.1L108.7,484.3L108.9,483.6L109.1,482.8L109.3,482.0L109.5,481.2L109.7,480.4L109.9,479.6L110.1,478.7L110.4,477.9L110.6,477.0L110.8,476.0L111.0,475.0L111.3,473.3L111.6,471.4L111.8,469.3L112.1,467.2L112.3,465.0L112.6,462.8L112.9,460.6L113.2,458.6L113.6,456.7L114.0,455.0L114.3,453.9L114.6,452.8L114.9,451.8L115.3,450.7L115.6,449.8L116.0,448.8L116.3,448.0L116.7,447.3L117.2,446.8L117.6,446.4L117.9,446.3L118.1,446.1L118.4,446.1L118.7,446.0L118.9,446.0L119.2,446.1L119.5,446.1L119.8,446.2L120.1,446.3L120.4,446.4L120.9,446.7L121.4,447.0L121.9,447.4L122.4,447.9L122.9,448.5L123.4,449.1L123.9,449.7L124.4,450.3L124.9,450.9L125.4,451.4L125.9,451.9L126.3,452.4L126.7,452.8L127.2,453.3L127.6,453.8L128.0,454.2L128.4,454.7L128.8,455.3L129.3,455.8L129.7,456.4L130.3,457.2L130.8,458.2L131.4,459.1L132.0,460.2L132.5,461.2L133.1,462.3L133.7,463.3L134.2,464.4L134.8,465.4L135.4,466.4L136.0,467.3L136.5,468.2L137.1,469.1L137.6,470.0L138.2,470.9L138.7,471.8L139.3,472.6L139.9,473.4L140.5,474.2L141.1,475.0L141.7,475.7L142.2,476.3L142.8,477.0L143.4,477.6L144.0,478.2L144.6,478.8L145.2,479.4L145.8,479.9L146.4,480.3L146.9,480.7L147.2,480.9L147.5,481.1L147.8,481.3L148.1,481.4L148.4,481.6L148.7,481.7L149.0,481.8L149.3,481.9L149.6,481.9L150.0,482.0L150.5,482.1L151.1,482.1L151.6,482.0L152.2,482.0L152.9,481.9L153.5,481.8L154.1,481.7L154.8,481.6L155.4,481.6L156.0,481.5L156.6,481.4L157.2,481.3L157.8,481.2L158.4,481.1L159.1,481.0L159.7,480.9L160.3,480.9L160.9,480.8L161.4,480.9L162.0,481.0L162.5,481.2L163.1,481.5L163.6,481.8L164.0,482.1L164.5,482.5L165.0,483.0L165.5,483.4L166.0,483.8L166.5,484.2L167.0,484.5L167.6,484.8L168.1,485.2L168.7,485.6L169.3,485.9L169.9,486.3L170.5,486.6L171.1,486.9L171.7,487.1L172.4,487.3L173.0,487.5L173.7,487.6L174.4,487.6L175.1,487.5L175.8,487.4L176.5,487.3L177.3,487.2L178.0,487.0L178.7,487.0L179.4,486.9L180.0,487.0L180.5,487.1L181.1,487.2L181.6,487.4L182.1,487.5L182.6,487.7L183.1,488.0L183.6,488.2L184.0,488.4L184.5,488.7L185.0,489.0L185.5,489.4L186.0,489.8L186.5,490.2L187.0,490.6L187.5,491.1L188.0,491.6L188.5,492.1L189.0,492.6L189.5,493.0L190.0,493.5L190.6,494.0L191.1,494.4L191.7,494.9L192.3,495.4L192.9,495.9L193.5,496.3L194.1,496.8L194.7,497.2L195.3,497.6L196.0,498.0L196.7,498.4L197.5,498.8L198.3,499.2L199.1,499.6L199.9,499.9L200.7,500.2L201.5,500.5L202.4,500.7L203.2,500.9L204.0,501.0L204.8,501.0L205.6,501.0L206.5,501.0L207.4,500.9L208.2,500.7L209.0,500.5L209.8,500.3L210.6,500.0L211.3,499.7L212.0,499.3L212.5,498.9L213.0,498.5L213.5,498.0L213.9,497.5L214.3,496.9L214.7,496.4L215.1,495.8L215.5,495.2L215.9,494.6L216.3,494.0L216.8,493.3L217.2,492.5L217.7,491.6L218.1,490.8L218.6,489.9L219.0,489.1L219.4,488.4L219.8,487.8L220.2,487.4L220.6,487.3L220.9,487.4L221.1,487.5L221.4,487.8L221.6,488.1L221.9,488.5L222.1,488.9L222.3,489.3L222.5,489.8L222.7,490.3L222.9,490.8L223.2,491.6L223.4,492.6L223.6,493.6L223.8,494.7L223.9,495.9L224.0,497.1L224.2,498.4L224.3,499.7L224.4,500.9L224.6,502.2L224.8,503.8L225.0,505.4L225.2,507.1L225.4,508.8L225.7,510.5L225.9,512.3L226.1,514.1L226.4,515.8L226.6,517.6L226.9,519.4L227.2,521.3L227.5,523.2L227.9,525.2L228.2,527.2L228.6,529.2L229.0,531.1L229.4,533.1L229.8,535.0L230.2,536.8L230.7,538.6L231.1,540.2L231.5,541.9L231.9,543.6L232.3,545.4L232.7,547.0L233.1,548.6L233.6,549.9L234.1,551.0L234.6,551.8L235.2,552.1L235.7,552.1L236.2,551.9L236.7,551.5L237.2,551.0L237.8,550.3L238.4,549.6L238.9,548.8L239.4,548.0L239.9,547.1L240.4,546.3L241.0,545.0L241.5,543.6L242.0,542.0L242.5,540.3L242.9,538.6L243.3,536.7L243.7,534.9L244.1,533.1L244.5,531.3L244.9,529.6L245.3,527.9L245.7,526.0L246.1,524.2L246.4,522.3L246.8,520.4L247.2,518.6L247.6,516.9L248.1,515.4L248.7,514.0L249.4,512.9L249.9,512.3L250.4,511.9L250.9,511.5L251.5,511.1L252.1,510.8L252.7,510.6L253.3,510.3L253.9,510.0L254.4,509.8L255.0,509.5L255.5,509.2L256.0,509.0L256.5,508.8L257.0,508.6L257.5,508.3L258.1,508.1L258.6,507.9L259.0,507.6L259.5,507.3L260.0,507.0L260.5,506.6L261.1,506.1L261.6,505.5L262.1,505.0L262.5,504.4L263.0,503.8L263.5,503.2L264.0,502.6L264.5,502.0L265.0,501.5L265.5,501.0L266.0,500.4L266.5,499.7L267.0,499.1L267.5,498.5L268.0,498.0L268.5,497.5L269.0,497.0L269.5,496.7L270.0,496.5L270.4,496.4L270.8,496.4L271.2,496.5L271.6,496.5L272.0,496.7L272.4,496.8L272.8,497.0L273.2,497.2L273.6,497.3L274.0,497.5L274.4,497.7L274.8,498.0L275.2,498.3L275.6,498.6L275.9,499.0L276.3,499.3L276.7,499.6L277.1,499.8L277.6,499.9L278.0,500.0L278.6,499.9L279.3,499.6L280.0,499.2L280.7,498.7L281.4,498.2L282.1,497.6L282.8,497.1L283.6,496.6L284.3,496.2L285.0,496.0L285.6,495.9L286.2,495.9L286.8,496.0L287.4,496.1L288.0,496.3L288.6,496.5L289.2,496.6L289.8,496.8L290.4,496.9L291.0,497.0L291.6,497.0L292.2,497.0L292.8,497.0L293.4,497.0L294.0,497.0L294.5,496.9L295.1,496.9L295.8,496.9L296.4,496.9L297.0,497.0L297.8,497.1L298.5,497.3L299.3,497.4L300.1,497.6L300.9,497.9L301.7,498.1L302.6,498.3L303.4,498.6L304.2,498.8L305.0,499.0L305.8,499.2L306.6,499.5L307.4,499.8L308.2,500.1L309.0,500.3L309.9,500.6L310.7,500.8L311.4,500.9L312.2,501.0L313.0,501.0L313.7,500.9L314.4,500.7L315.1,500.4L315.8,500.1L316.5,499.8L317.2,499.4L317.8,499.0L318.5,498.6L319.3,498.3L320.0,498.0L320.8,497.7L321.7,497.4L322.6,497.2L323.5,496.9L324.4,496.7L325.3,496.5L326.3,496.2L327.2,496.0L328.1,495.7L329.0,495.5" fill="none" stroke="#000" stroke-width="2.7" stroke-linejoin="round" stroke-linecap="butt"/>
<path d="M58.00,378.80L58.00,661.75L341.50,661.75" fill="none" stroke="#1c1c1c" stroke-width="1.4" stroke-linejoin="round" stroke-linecap="round"/>
<line x1="54.70" y1="436.43" x2="58.00" y2="436.43" stroke="#333" stroke-width="1.1"/>
<text x="51.80" y="440.23" text-anchor="end" font-size="10.7" fill="#4d4d4d">2.50</text>
<line x1="54.70" y1="495.10" x2="58.00" y2="495.10" stroke="#333" stroke-width="1.1"/>
<text x="51.80" y="498.90" text-anchor="end" font-size="10.7" fill="#4d4d4d">0.00</text>
<line x1="54.70" y1="553.77" x2="58.00" y2="553.77" stroke="#333" stroke-width="1.1"/>
<text x="51.80" y="557.57" text-anchor="end" font-size="10.7" fill="#4d4d4d">−2.50</text>
<line x1="54.70" y1="612.44" x2="58.00" y2="612.44" stroke="#333" stroke-width="1.1"/>
<text x="51.80" y="616.24" text-anchor="end" font-size="10.7" fill="#4d4d4d">−5.00</text>
<line x1="108.00" y1="661.75" x2="108.00" y2="665.05" stroke="#333" stroke-width="1.1"/>
<text x="108.00" y="676.15" text-anchor="middle" font-size="10.9" fill="#4d4d4d">0</text>
<line x1="182.30" y1="661.75" x2="182.30" y2="665.05" stroke="#333" stroke-width="1.1"/>
<text x="182.30" y="676.15" text-anchor="middle" font-size="10.9" fill="#4d4d4d">2</text>
<line x1="256.60" y1="661.75" x2="256.60" y2="665.05" stroke="#333" stroke-width="1.1"/>
<text x="256.60" y="676.15" text-anchor="middle" font-size="10.9" fill="#4d4d4d">4</text>
<line x1="330.90" y1="661.75" x2="330.90" y2="665.05" stroke="#333" stroke-width="1.1"/>
<text x="330.90" y="676.15" text-anchor="middle" font-size="10.9" fill="#4d4d4d">6</text>
<text x="200.50" y="690.95" text-anchor="middle" font-size="13.7" fill="#000">Time (s)</text>
<text transform="translate(14.50,519.50) rotate(-90)" text-anchor="middle" font-size="13.5" fill="#000">&#946;<tspan font-size="8.8" dx="0.7" dy="2.4">2</tspan><tspan dy="-2.4">(s)</tspan></text>
<text x="200.10" y="367.70" text-anchor="middle" font-size="15.7" font-weight="bold" fill="#000">Mean Change: 3rd−1st Session</text>
<text x="19.90" y="368.30" font-size="19" fill="#000">C</text>
<line x1="109.00" y1="394.60" x2="144.65" y2="394.60" stroke="#d6112c" stroke-width="2.6"/>
<text x="126.83" y="390.60" text-anchor="middle" font-size="11" fill="#d6112c">Early</text>
<line x1="146.15" y1="394.60" x2="181.80" y2="394.60" stroke="#1b67b5" stroke-width="2.6"/>
<text x="163.98" y="390.60" text-anchor="middle" font-size="11" fill="#1b67b5">Mid</text>
<line x1="183.30" y1="394.60" x2="218.95" y2="394.60" stroke="#eaa215" stroke-width="2.6"/>
<text x="201.12" y="390.60" text-anchor="middle" font-size="11" fill="#eaa215">Late</text>
<path d="M427.70,505.60L428.1,505.5L428.5,505.3L428.9,505.2L429.3,505.0L429.7,504.9L430.1,504.8L430.5,504.6L430.9,504.5L431.3,504.5L431.7,504.4L432.2,504.4L432.7,504.4L433.2,504.5L433.7,504.6L434.2,504.7L434.8,504.8L435.3,504.9L435.8,505.0L436.4,505.0L436.9,505.0L437.5,504.9L438.0,504.7L438.6,504.5L439.2,504.2L439.7,503.9L440.3,503.7L440.9,503.4L441.5,503.2L442.0,503.1L442.6,503.1L443.2,503.2L443.8,503.4L444.3,503.7L444.9,504.0L445.5,504.4L446.1,504.8L446.7,505.1L447.2,505.4L447.8,505.6L448.4,505.6L449.0,505.5L449.6,505.2L450.2,504.9L450.7,504.5L451.3,504.0L451.9,503.5L452.5,503.1L453.1,502.8L453.6,502.5L454.2,502.4L454.7,502.5L455.3,502.7L455.8,503.0L456.4,503.3L457.0,503.7L457.5,504.1L458.0,504.4L458.5,504.6L458.9,504.7L459.3,504.7L459.6,504.5L459.9,504.3L460.1,503.9L460.3,503.5L460.5,503.0L460.7,502.5L460.8,501.9L461.0,501.3L461.1,500.7L461.3,500.0L461.6,498.5L461.9,496.7L462.2,494.8L462.5,492.7L462.7,490.4L462.9,488.0L463.1,485.5L463.3,482.8L463.6,480.1L463.8,477.3L464.2,472.3L464.6,466.5L464.9,460.1L465.2,453.3L465.6,446.5L466.0,439.6L466.4,433.1L466.9,427.0L467.4,421.7L468.1,417.2L468.5,415.2L468.9,413.2L469.3,411.2L469.7,409.2L470.1,407.5L470.5,405.9L471.0,404.6L471.5,403.5L471.9,402.9L472.4,402.6L472.8,402.7L473.2,403.2L473.6,403.8L474.1,404.7L474.5,405.8L475.0,406.9L475.4,408.2L475.8,409.5L476.3,410.8L476.7,412.0L477.4,414.2L478.1,416.6L478.8,419.2L479.5,422.0L480.2,424.9L480.9,427.9L481.6,430.9L482.2,433.8L482.9,436.7L483.6,439.5L484.2,442.1L484.9,444.9L485.5,447.6L486.1,450.3L486.8,453.1L487.4,455.7L488.0,458.3L488.7,460.7L489.4,462.9L490.1,465.0L490.6,466.2L491.1,467.4L491.6,468.5L492.1,469.5L492.6,470.5L493.1,471.5L493.6,472.4L494.2,473.3L494.7,474.3L495.3,475.3L495.9,476.4L496.5,477.5L497.1,478.6L497.8,479.8L498.4,480.9L499.1,482.0L499.8,483.0L500.5,484.0L501.3,484.8L502.1,485.6L502.8,486.2L503.6,486.6L504.4,487.0L505.3,487.4L506.1,487.7L507.0,488.0L507.9,488.2L508.8,488.5L509.7,488.7L510.7,489.0L511.9,489.3L513.1,489.6L514.5,489.9L515.8,490.2L517.2,490.4L518.5,490.7L519.9,490.9L521.2,491.1L522.4,491.4L523.6,491.6L524.5,491.8L525.3,491.9L526.1,492.0L526.8,492.2L527.6,492.3L528.3,492.4L529.1,492.6L529.8,492.8L530.5,493.0L531.3,493.3L532.2,493.7L533.0,494.1L533.9,494.6L534.8,495.1L535.7,495.6L536.5,496.2L537.4,496.8L538.3,497.3L539.1,497.8L540.0,498.3L540.8,498.7L541.6,499.2L542.4,499.6L543.2,500.0L544.0,500.4L544.7,500.8L545.5,501.2L546.3,501.6L547.1,501.9L547.9,502.3L548.7,502.7L549.4,503.0L550.2,503.4L551.0,503.8L551.8,504.2L552.6,504.5L553.3,504.8L554.1,505.1L554.9,505.3L555.7,505.4L556.5,505.4L557.3,505.4L558.1,505.3L558.9,505.2L559.8,505.0L560.6,504.8L561.4,504.5L562.2,504.3L562.9,504.1L563.6,503.9L564.1,503.8L564.7,503.7L565.2,503.6L565.7,503.5L566.2,503.4L566.6,503.3L567.1,503.1L567.5,502.9L567.9,502.6L568.3,502.3L568.8,501.7L569.2,500.8L569.6,499.9L569.9,498.8L570.2,497.7L570.4,496.5L570.7,495.4L570.9,494.2L571.2,493.1L571.5,492.0L571.8,491.0L572.1,490.0L572.4,488.9L572.7,487.8L572.9,486.7L573.2,485.7L573.5,484.8L573.9,483.9L574.2,483.2L574.6,482.6L574.8,482.3L575.1,482.1L575.3,481.8L575.6,481.6L575.8,481.4L576.1,481.2L576.3,481.1L576.6,481.0L576.8,481.0L577.0,481.0L577.3,481.2L577.6,481.5L577.8,482.0L578.1,482.6L578.3,483.3L578.5,484.1L578.7,484.9L579.0,485.7L579.2,486.5L579.4,487.3L579.7,488.5L580.0,489.8L580.3,491.1L580.6,492.5L580.9,494.0L581.2,495.5L581.5,497.0L581.8,498.5L582.1,500.0L582.5,501.5L582.9,503.1L583.4,504.7L583.8,506.3L584.3,507.9L584.8,509.5L585.3,511.1L585.8,512.7L586.2,514.3L586.7,515.8L587.2,517.2L587.6,518.4L587.9,519.6L588.2,520.8L588.5,521.9L588.7,523.1L589.1,524.2L589.4,525.2L589.8,526.1L590.3,526.9L590.9,527.5L591.4,527.9L591.9,528.2L592.5,528.5L593.1,528.8L593.8,528.9L594.4,529.1L595.1,529.1L595.7,529.1L596.4,529.1L597.0,529.0L597.8,528.8L598.6,528.4L599.3,527.8L600.1,527.2L600.9,526.5L601.7,525.8L602.5,525.0L603.3,524.3L604.1,523.6L605.0,523.0L605.9,522.4L606.9,521.7L607.9,521.1L608.9,520.5L609.9,519.9L610.9,519.2L611.9,518.6L613.0,518.1L614.0,517.5L615.0,517.0L616.0,516.5L617.0,516.1L618.0,515.7L619.0,515.3L620.0,514.9L621.0,514.6L622.0,514.2L623.0,513.8L624.0,513.4L625.0,513.0L626.0,512.5L627.1,512.0L628.1,511.5L629.1,511.0L630.2,510.4L631.2,509.9L632.2,509.4L633.2,508.9L634.1,508.4L635.0,508.0L635.7,507.7L636.3,507.4L636.9,507.1L637.4,506.8L638.0,506.6L638.6,506.3L639.1,506.1L639.7,505.9L640.3,505.7L641.0,505.5L641.8,505.3L642.7,505.2L643.5,505.2L644.4,505.1L645.3,505.1L646.3,505.1L647.2,505.1L648.1,505.1L649.1,505.1L650.0,505.0L651.0,504.9L652.0,504.8L652.9,504.7L653.9,504.7L654.9,504.6L655.9,504.5L657.0,504.3L658.0,504.2L659.0,504.1L660.0,504.0L661.1,503.9L662.2,503.7L663.3,503.6L664.4,503.4L665.5,503.2L666.7,503.1L667.8,502.9L668.9,502.7L669.9,502.6L671.0,502.5L671.9,502.4L672.9,502.3L673.8,502.3L674.7,502.2L675.6,502.2L676.4,502.2L677.3,502.1L678.2,502.1L679.1,502.0L680.0,502.0L680.00,512.00L678.5,512.3L677.0,512.6L675.4,512.9L673.9,513.3L672.3,513.6L670.8,513.9L669.3,514.2L667.8,514.5L666.4,514.8L665.0,515.0L663.9,515.2L662.8,515.4L661.8,515.6L660.7,515.8L659.7,516.0L658.7,516.1L657.8,516.3L656.8,516.4L655.9,516.5L655.0,516.5L654.3,516.5L653.7,516.4L653.1,516.4L652.5,516.2L651.9,516.1L651.3,516.0L650.8,516.0L650.2,515.9L649.6,515.9L649.0,516.0L648.3,516.2L647.6,516.4L646.9,516.6L646.2,516.9L645.4,517.3L644.7,517.7L644.0,518.1L643.3,518.5L642.7,519.0L642.0,519.5L641.2,520.2L640.5,520.9L639.8,521.7L639.0,522.6L638.3,523.5L637.6,524.4L637.0,525.3L636.3,526.3L635.6,527.2L635.0,528.0L634.5,528.7L633.9,529.4L633.4,530.1L632.9,530.8L632.5,531.5L632.0,532.2L631.5,532.9L631.0,533.6L630.5,534.3L630.0,535.0L629.4,535.8L628.8,536.5L628.2,537.3L627.6,538.1L626.9,538.8L626.3,539.6L625.7,540.4L625.1,541.2L624.5,542.1L624.0,543.0L623.4,544.1L622.9,545.2L622.4,546.4L621.9,547.6L621.4,548.9L621.0,550.1L620.5,551.4L620.0,552.6L619.5,553.8L619.0,555.0L618.5,556.2L617.9,557.3L617.3,558.5L616.8,559.7L616.2,560.9L615.6,562.0L615.0,563.1L614.5,564.2L614.0,565.1L613.5,566.0L613.2,566.5L613.0,566.9L612.7,567.2L612.5,567.6L612.2,567.9L612.0,568.2L611.7,568.6L611.5,569.0L611.2,569.4L611.0,570.0L610.4,571.6L609.8,573.6L609.2,575.9L608.6,578.4L608.0,581.1L607.4,583.9L606.8,586.8L606.2,589.6L605.6,592.4L605.0,595.0L604.4,597.5L603.9,600.1L603.3,602.7L602.7,605.3L602.2,607.9L601.6,610.5L601.1,613.0L600.6,615.4L600.1,617.8L599.6,620.0L599.3,621.6L599.0,623.1L598.7,624.6L598.4,626.1L598.1,627.5L597.8,628.9L597.5,630.3L597.2,631.6L596.8,633.0L596.4,634.3L595.9,635.7L595.4,637.2L594.8,638.8L594.2,640.4L593.6,642.0L593.0,643.4L592.4,644.6L591.8,645.6L591.2,646.2L590.7,646.4L590.2,646.2L589.8,645.6L589.4,644.6L588.9,643.5L588.5,642.1L588.1,640.6L587.8,639.0L587.4,637.4L587.1,635.8L586.8,634.3L586.4,632.3L586.1,630.1L585.8,627.8L585.6,625.5L585.4,623.1L585.2,620.6L585.1,618.0L584.9,615.4L584.7,612.7L584.5,610.0L584.2,606.4L584.0,602.6L583.8,598.7L583.5,594.7L583.3,590.6L583.1,586.5L582.9,582.3L582.6,578.2L582.3,574.0L582.0,570.0L581.6,566.0L581.2,561.8L580.8,557.7L580.4,553.5L579.9,549.4L579.5,545.3L579.0,541.3L578.6,537.3L578.2,533.6L577.8,530.0L577.6,527.2L577.4,524.1L577.3,521.0L577.1,517.9L577.0,514.9L576.9,512.2L576.7,509.8L576.4,507.9L576.0,506.6L575.5,506.0L575.3,506.0L575.1,506.0L574.9,506.1L574.6,506.3L574.4,506.5L574.1,506.7L573.9,507.0L573.6,507.3L573.4,507.5L573.1,507.8L572.7,508.2L572.4,508.6L572.0,509.1L571.6,509.6L571.2,510.1L570.8,510.7L570.4,511.2L570.0,511.7L569.6,512.1L569.1,512.5L568.6,512.8L568.1,513.1L567.6,513.4L567.1,513.6L566.5,513.9L566.0,514.1L565.4,514.3L564.8,514.5L564.2,514.7L563.6,514.9L562.9,515.2L562.1,515.5L561.3,515.8L560.6,516.0L559.8,516.3L558.9,516.6L558.1,516.8L557.3,517.0L556.5,517.1L555.7,517.2L554.9,517.2L554.1,517.2L553.4,517.1L552.6,517.0L551.8,516.8L551.0,516.6L550.2,516.4L549.4,516.2L548.7,516.0L547.9,515.7L547.1,515.4L546.3,515.1L545.5,514.7L544.7,514.4L544.0,514.0L543.2,513.6L542.4,513.1L541.6,512.7L540.8,512.2L540.0,511.7L539.0,511.0L538.0,510.3L537.1,509.5L536.1,508.6L535.1,507.8L534.0,506.9L533.0,506.1L531.9,505.4L530.8,504.8L529.6,504.4L528.3,504.1L526.9,503.9L525.5,503.9L524.0,504.0L522.5,504.1L520.9,504.3L519.4,504.5L517.9,504.6L516.4,504.8L515.0,504.8L513.6,504.8L512.2,504.8L510.8,504.9L509.4,504.9L508.0,504.9L506.7,504.9L505.4,504.9L504.2,504.8L503.1,504.6L502.1,504.4L501.6,504.2L501.1,504.0L500.7,503.8L500.3,503.6L499.9,503.3L499.5,503.0L499.1,502.8L498.8,502.5L498.3,502.1L497.9,501.8L497.2,501.3L496.4,500.7L495.6,500.1L494.8,499.4L494.0,498.7L493.1,498.0L492.3,497.3L491.5,496.5L490.8,495.8L490.1,495.0L489.5,494.2L488.9,493.4L488.4,492.6L487.9,491.7L487.5,490.8L487.0,489.9L486.5,489.0L486.0,488.1L485.5,487.3L485.0,486.4L484.4,485.5L483.8,484.6L483.1,483.7L482.4,482.7L481.8,481.8L481.1,480.9L480.4,480.0L479.7,479.1L479.0,478.2L478.4,477.3L477.8,476.3L477.1,475.3L476.5,474.1L475.9,472.9L475.2,471.8L474.6,470.8L474.0,469.9L473.4,469.2L472.9,468.8L472.4,468.7L471.8,469.2L471.2,470.4L470.8,472.1L470.3,474.2L469.9,476.6L469.6,479.2L469.2,481.9L468.9,484.6L468.5,487.1L468.1,489.3L467.7,491.4L467.3,493.6L466.9,495.8L466.5,498.1L466.1,500.4L465.7,502.5L465.2,504.5L464.8,506.3L464.3,507.9L463.8,509.1L463.6,509.5L463.3,509.9L463.1,510.3L462.8,510.6L462.6,510.8L462.3,511.1L462.1,511.3L461.8,511.5L461.5,511.8L461.3,512.0L461.1,512.2L460.9,512.4L460.7,512.6L460.6,512.9L460.4,513.1L460.2,513.2L460.0,513.4L459.8,513.5L459.5,513.6L459.3,513.7L458.9,513.7L458.4,513.5L458.0,513.3L457.5,512.9L456.9,512.6L456.4,512.2L455.8,511.9L455.3,511.6L454.7,511.5L454.2,511.4L453.6,511.5L453.1,511.8L452.5,512.1L451.9,512.5L451.3,513.0L450.7,513.5L450.2,513.9L449.6,514.2L449.0,514.5L448.4,514.6L447.8,514.6L447.2,514.4L446.7,514.1L446.1,513.8L445.5,513.4L444.9,513.0L444.3,512.7L443.8,512.4L443.2,512.2L442.6,512.1L442.0,512.1L441.5,512.2L440.9,512.4L440.3,512.7L439.7,512.9L439.2,513.2L438.6,513.5L438.0,513.7L437.5,513.9L436.9,514.0L436.4,514.0L435.8,514.0L435.3,513.9L434.8,513.8L434.2,513.7L433.7,513.6L433.2,513.5L432.7,513.4L432.2,513.4L431.7,513.4L431.3,513.5L430.9,513.5L430.5,513.6L430.1,513.8L429.7,513.9L429.3,514.0L428.9,514.2L428.5,514.3L428.1,514.5L427.7,514.6Z" fill="#d6d6d6"/>
<path d="M427.70,507.60L428.1,507.5L428.5,507.3L428.9,507.2L429.3,507.0L429.7,506.9L430.1,506.8L430.5,506.6L430.9,506.5L431.3,506.5L431.7,506.4L432.2,506.4L432.7,506.4L433.2,506.5L433.7,506.6L434.2,506.7L434.8,506.8L435.3,506.9L435.8,507.0L436.4,507.0L436.9,507.0L437.5,506.9L438.0,506.7L438.6,506.5L439.2,506.2L439.7,505.9L440.3,505.7L440.9,505.4L441.5,505.2L442.0,505.1L442.6,505.1L443.2,505.2L443.8,505.4L444.3,505.7L444.9,506.0L445.5,506.4L446.1,506.8L446.7,507.1L447.2,507.4L447.8,507.6L448.4,507.6L449.0,507.5L449.6,507.2L450.2,506.9L450.7,506.5L451.3,506.0L451.9,505.5L452.5,505.1L453.1,504.8L453.6,504.5L454.2,504.4L454.7,504.5L455.3,504.7L455.8,504.9L456.4,505.3L457.0,505.7L457.5,506.0L458.0,506.4L458.5,506.6L458.9,506.7L459.3,506.7L459.6,506.6L459.9,506.3L460.1,506.1L460.3,505.7L460.5,505.4L460.6,504.9L460.8,504.5L461.0,504.0L461.1,503.5L461.3,503.0L461.6,502.0L461.9,501.0L462.2,499.8L462.4,498.6L462.7,497.3L462.9,495.9L463.1,494.4L463.3,492.8L463.6,491.1L463.8,489.3L464.2,485.2L464.7,480.2L465.0,474.6L465.4,468.5L465.8,462.3L466.1,456.0L466.6,449.8L467.0,444.0L467.5,438.8L468.1,434.4L468.5,432.0L468.8,429.6L469.2,427.1L469.6,424.7L470.1,422.5L470.5,420.5L470.9,418.8L471.4,417.5L471.9,416.6L472.4,416.3L472.8,416.4L473.2,416.8L473.6,417.5L474.0,418.4L474.5,419.4L474.9,420.6L475.4,421.9L475.8,423.2L476.3,424.5L476.7,425.8L477.5,428.3L478.4,431.3L479.4,434.6L480.3,438.1L481.3,441.7L482.2,445.4L483.1,449.0L483.9,452.3L484.7,455.4L485.3,458.0L485.6,459.3L485.9,460.6L486.1,461.7L486.3,462.9L486.4,463.9L486.6,464.9L486.8,466.0L487.0,467.0L487.3,468.0L487.6,469.0L487.9,470.0L488.3,471.0L488.7,472.1L489.1,473.1L489.5,474.1L489.9,475.0L490.4,476.0L490.9,476.9L491.4,477.8L491.9,478.7L492.4,479.5L493.0,480.2L493.5,481.0L494.1,481.7L494.7,482.4L495.4,483.0L496.0,483.7L496.6,484.3L497.3,485.0L497.9,485.6L498.5,486.2L499.0,486.7L499.6,487.3L500.1,487.9L500.7,488.4L501.3,488.9L501.9,489.4L502.5,489.9L503.2,490.3L503.9,490.7L504.8,491.1L505.8,491.5L506.9,491.8L508.0,492.1L509.1,492.3L510.2,492.5L511.4,492.7L512.6,492.9L513.8,493.1L515.0,493.3L516.4,493.5L517.8,493.6L519.3,493.7L520.8,493.8L522.4,493.9L523.9,494.0L525.4,494.1L526.9,494.3L528.3,494.6L529.6,495.0L530.8,495.5L531.9,496.0L533.0,496.7L534.0,497.4L535.0,498.1L536.1,498.8L537.1,499.6L538.0,500.3L539.0,500.9L540.0,501.5L540.8,502.0L541.6,502.4L542.4,502.8L543.2,503.2L544.0,503.6L544.8,504.0L545.5,504.4L546.3,504.7L547.1,505.1L547.9,505.4L548.7,505.7L549.4,506.0L550.2,506.3L551.0,506.6L551.8,506.9L552.6,507.1L553.3,507.4L554.1,507.5L554.9,507.7L555.7,507.8L556.5,507.9L557.3,507.9L558.1,507.9L558.9,507.9L559.7,507.9L560.6,507.8L561.4,507.7L562.1,507.5L562.9,507.3L563.6,507.0L564.3,506.7L565.0,506.2L565.7,505.8L566.4,505.3L567.1,504.7L567.7,504.1L568.3,503.5L568.9,502.8L569.4,502.2L569.9,501.5L570.4,500.7L570.8,499.9L571.1,499.0L571.4,498.1L571.7,497.2L572.0,496.3L572.2,495.3L572.5,494.5L572.8,493.6L573.1,492.8L573.4,492.1L573.6,491.4L573.9,490.7L574.2,490.0L574.4,489.3L574.7,488.6L575.0,488.1L575.3,487.7L575.5,487.4L575.8,487.3L576.1,487.4L576.4,487.7L576.7,488.2L577.0,488.8L577.3,489.5L577.5,490.3L577.8,491.1L578.1,492.0L578.4,492.8L578.6,493.6L578.9,494.6L579.2,495.6L579.4,496.7L579.6,497.8L579.8,498.9L580.0,500.1L580.2,501.3L580.4,502.6L580.7,504.0L580.9,505.4L581.3,507.8L581.7,510.5L582.1,513.5L582.5,516.5L583.0,519.7L583.4,522.9L583.9,526.1L584.5,529.1L585.1,532.0L585.7,534.7L586.2,536.8L586.8,539.1L587.3,541.4L587.9,543.7L588.5,545.9L589.2,547.9L589.8,549.7L590.6,551.1L591.4,552.2L592.2,552.8L592.7,552.9L593.3,552.9L593.8,552.8L594.4,552.5L595.0,552.2L595.6,551.8L596.2,551.4L596.8,550.9L597.4,550.4L598.0,550.0L598.7,549.4L599.4,548.8L600.1,548.1L600.8,547.3L601.5,546.5L602.2,545.7L602.9,544.8L603.6,543.9L604.3,543.0L605.0,542.0L606.0,540.6L606.9,539.1L607.9,537.4L608.8,535.7L609.8,534.0L610.8,532.2L611.8,530.5L612.8,528.9L613.9,527.4L615.0,526.0L615.9,525.0L616.9,524.0L617.9,523.1L618.9,522.2L619.9,521.4L620.9,520.6L621.9,519.8L622.9,519.0L624.0,518.3L625.0,517.5L626.0,516.8L627.0,516.0L627.9,515.3L628.9,514.6L629.9,513.9L630.9,513.3L631.9,512.7L632.9,512.1L634.0,511.5L635.0,511.0L636.0,510.6L637.0,510.2L637.9,509.8L638.9,509.4L639.9,509.1L641.0,508.8L642.0,508.6L643.0,508.4L644.0,508.2L645.0,508.0L646.0,507.9L647.0,507.8L648.0,507.8L649.0,507.8L650.0,507.8L651.0,507.9L652.0,507.9L653.0,508.0L654.0,508.0L655.0,508.0L656.0,508.0L657.0,508.0L657.9,507.9L658.9,507.9L659.9,507.9L660.9,507.8L661.9,507.8L662.9,507.7L663.9,507.6L665.0,507.5L666.4,507.3L667.8,507.1L669.3,506.9L670.8,506.6L672.3,506.4L673.9,506.1L675.4,505.8L677.0,505.5L678.5,505.3L680.0,505.0L680.00,510.00L678.5,510.2L677.0,510.4L675.4,510.6L673.9,510.8L672.3,511.0L670.8,511.2L669.3,511.4L667.8,511.6L666.4,511.8L665.0,512.0L663.9,512.2L662.9,512.3L661.9,512.4L660.9,512.6L659.9,512.7L659.0,512.9L658.0,513.0L657.0,513.2L656.0,513.3L655.0,513.5L653.8,513.7L652.6,513.9L651.4,514.0L650.1,514.2L648.8,514.4L647.6,514.6L646.4,514.8L645.2,515.2L644.1,515.5L643.0,516.0L642.1,516.5L641.2,517.1L640.3,517.7L639.5,518.4L638.7,519.2L638.0,519.9L637.2,520.7L636.5,521.5L635.7,522.2L635.0,523.0L634.3,523.8L633.5,524.5L632.8,525.3L632.1,526.1L631.4,527.0L630.8,527.8L630.1,528.6L629.4,529.4L628.7,530.2L628.0,531.0L627.3,531.7L626.6,532.5L625.8,533.1L625.1,533.8L624.4,534.5L623.7,535.2L623.0,535.9L622.3,536.7L621.6,537.6L621.0,538.5L620.3,539.8L619.6,541.3L619.0,542.9L618.4,544.6L617.9,546.3L617.3,548.0L616.8,549.8L616.2,551.6L615.6,553.3L615.0,555.0L614.3,556.7L613.6,558.4L612.8,560.1L612.0,561.8L611.2,563.4L610.4,565.1L609.6,566.8L608.9,568.5L608.2,570.3L607.5,572.0L606.9,573.8L606.3,575.5L605.7,577.3L605.2,579.1L604.6,580.9L604.1,582.7L603.6,584.5L603.1,586.3L602.5,588.2L602.0,590.0L601.4,592.0L600.8,594.0L600.3,596.1L599.7,598.2L599.1,600.3L598.5,602.4L597.9,604.5L597.3,606.4L596.6,608.3L596.0,610.0L595.5,611.3L594.9,612.7L594.4,614.2L593.8,615.6L593.2,617.0L592.6,618.2L592.1,619.2L591.6,620.0L591.1,620.5L590.7,620.7L590.5,620.6L590.3,620.3L590.1,619.9L589.9,619.4L589.8,618.8L589.6,618.1L589.5,617.3L589.3,616.5L589.2,615.8L589.0,615.0L588.6,613.5L588.2,611.8L587.8,610.0L587.4,608.0L586.9,605.9L586.5,603.8L586.1,601.6L585.7,599.4L585.3,597.2L585.0,595.0L584.7,592.6L584.5,590.3L584.2,587.9L584.1,585.5L583.9,583.0L583.8,580.6L583.6,578.0L583.4,575.4L583.2,572.7L583.0,570.0L582.7,566.3L582.3,562.5L581.9,558.5L581.5,554.3L581.1,550.2L580.7,546.0L580.3,541.8L579.8,537.7L579.4,533.8L579.0,530.0L578.7,526.7L578.4,523.2L578.2,519.5L577.9,515.8L577.6,512.3L577.4,509.0L577.0,506.2L576.6,503.9L576.1,502.3L575.5,501.5L575.3,501.4L575.1,501.5L574.8,501.5L574.6,501.7L574.3,501.9L574.1,502.1L573.8,502.3L573.6,502.6L573.3,502.8L573.1,503.1L572.7,503.6L572.3,504.1L572.0,504.7L571.6,505.4L571.2,506.2L570.9,506.9L570.5,507.6L570.0,508.3L569.6,508.9L569.1,509.4L568.6,509.8L568.1,510.2L567.6,510.6L567.1,510.9L566.5,511.2L566.0,511.5L565.4,511.8L564.8,512.0L564.2,512.3L563.6,512.5L562.9,512.8L562.1,513.0L561.4,513.2L560.6,513.4L559.8,513.6L558.9,513.8L558.1,513.9L557.3,514.0L556.5,514.1L555.7,514.1L554.9,514.1L554.1,514.0L553.3,513.9L552.6,513.8L551.8,513.6L551.0,513.4L550.2,513.2L549.4,513.0L548.7,512.8L547.9,512.5L547.1,512.2L546.3,511.9L545.6,511.5L544.8,511.2L544.0,510.8L543.3,510.4L542.5,509.9L541.7,509.5L540.9,509.1L540.0,508.6L538.9,508.0L537.7,507.3L536.6,506.5L535.4,505.7L534.1,505.0L532.9,504.2L531.6,503.5L530.4,502.8L529.1,502.2L527.8,501.8L526.6,501.5L525.3,501.3L524.0,501.2L522.8,501.1L521.5,501.1L520.2,501.1L518.9,501.1L517.6,501.1L516.3,501.1L515.0,501.0L513.7,500.9L512.3,500.9L511.0,500.9L509.6,500.9L508.3,500.9L506.9,500.8L505.6,500.7L504.4,500.6L503.2,500.4L502.1,500.1L501.3,499.8L500.5,499.5L499.8,499.1L499.1,498.7L498.4,498.3L497.8,497.9L497.2,497.4L496.5,496.9L495.9,496.3L495.3,495.8L494.6,495.2L494.0,494.5L493.3,493.8L492.7,493.0L492.1,492.3L491.5,491.5L490.9,490.6L490.4,489.8L489.8,489.0L489.3,488.1L488.8,487.2L488.3,486.2L487.9,485.3L487.5,484.3L487.1,483.3L486.7,482.2L486.3,481.2L485.9,480.1L485.5,479.0L485.0,477.9L484.4,476.4L483.8,474.8L483.2,473.1L482.5,471.4L481.9,469.7L481.2,467.9L480.6,466.3L479.9,464.7L479.1,463.2L478.4,461.9L477.8,461.0L477.2,460.0L476.6,459.0L476.0,458.1L475.3,457.2L474.7,456.4L474.0,455.8L473.5,455.3L472.9,455.0L472.4,455.0L471.8,455.5L471.2,456.5L470.7,458.0L470.3,459.8L469.9,462.0L469.5,464.3L469.2,466.8L468.8,469.2L468.5,471.6L468.1,473.9L467.6,476.9L467.2,480.4L466.8,484.1L466.5,487.9L466.1,491.7L465.7,495.5L465.3,498.9L464.9,502.0L464.4,504.6L463.8,506.5L463.6,507.0L463.3,507.5L463.1,507.9L462.8,508.3L462.6,508.6L462.3,508.9L462.1,509.2L461.8,509.5L461.6,509.7L461.3,510.0L461.1,510.2L460.9,510.4L460.7,510.7L460.6,510.9L460.4,511.1L460.2,511.3L460.0,511.4L459.8,511.5L459.5,511.6L459.3,511.7L458.9,511.7L458.4,511.5L458.0,511.3L457.5,510.9L456.9,510.6L456.4,510.2L455.8,509.9L455.3,509.6L454.7,509.5L454.2,509.4L453.6,509.5L453.1,509.8L452.5,510.1L451.9,510.5L451.3,511.0L450.7,511.5L450.2,511.9L449.6,512.2L449.0,512.5L448.4,512.6L447.8,512.6L447.2,512.4L446.7,512.1L446.1,511.8L445.5,511.4L444.9,511.0L444.3,510.7L443.8,510.4L443.2,510.2L442.6,510.1L442.0,510.1L441.5,510.2L440.9,510.4L440.3,510.7L439.7,510.9L439.2,511.2L438.6,511.5L438.0,511.7L437.5,511.9L436.9,512.0L436.4,512.0L435.8,512.0L435.3,511.9L434.8,511.8L434.2,511.7L433.7,511.6L433.2,511.5L432.7,511.4L432.2,511.4L431.7,511.4L431.3,511.5L430.9,511.5L430.5,511.6L430.1,511.8L429.7,511.9L429.3,512.0L428.9,512.2L428.5,512.3L428.1,512.5L427.7,512.6Z" fill="#898989"/>
<line x1="412.20" y1="508.71" x2="692.70" y2="508.71" stroke="#333" stroke-width="1.2" stroke-dasharray="5,5.4"/>
<line x1="463.51" y1="398.30" x2="463.51" y2="661.75" stroke="#333" stroke-width="1.2" stroke-dasharray="5,5.4"/>
<path d="M427.90,510.10L428.3,510.0L428.6,509.8L429.0,509.7L429.4,509.5L429.8,509.4L430.1,509.3L430.5,509.1L430.9,509.0L431.3,509.0L431.7,508.9L432.2,508.9L432.7,508.9L433.2,509.0L433.7,509.1L434.2,509.2L434.8,509.3L435.3,509.4L435.8,509.5L436.4,509.5L436.9,509.5L437.5,509.4L438.0,509.2L438.6,509.0L439.2,508.7L439.7,508.4L440.3,508.2L440.9,507.9L441.5,507.7L442.0,507.6L442.6,507.6L443.2,507.7L443.8,507.9L444.3,508.2L444.9,508.5L445.5,508.9L446.1,509.3L446.7,509.6L447.2,509.9L447.8,510.1L448.4,510.1L449.0,510.0L449.6,509.7L450.2,509.4L450.7,509.0L451.3,508.5L451.9,508.0L452.5,507.6L453.1,507.3L453.6,507.0L454.2,506.9L454.7,507.0L455.3,507.1L455.8,507.4L456.4,507.8L456.9,508.1L457.5,508.5L458.0,508.8L458.5,509.1L458.9,509.2L459.3,509.2L459.6,509.1L459.8,509.0L460.0,508.8L460.2,508.6L460.4,508.4L460.6,508.2L460.8,507.9L461.0,507.6L461.1,507.2L461.3,506.9L461.6,506.2L461.8,505.4L462.0,504.5L462.2,503.5L462.4,502.4L462.5,501.3L462.7,500.0L462.8,498.8L463.0,497.4L463.2,496.0L463.6,493.0L464.1,489.5L464.5,485.6L465.0,481.4L465.5,477.1L466.0,472.7L466.5,468.3L467.0,464.1L467.6,460.2L468.1,456.7L468.5,454.2L468.9,451.5L469.2,448.8L469.6,446.1L470.0,443.5L470.4,441.2L470.9,439.2L471.3,437.6L471.8,436.5L472.4,436.1L472.8,436.2L473.2,436.4L473.6,436.9L474.0,437.6L474.5,438.4L474.9,439.2L475.4,440.2L475.8,441.1L476.3,442.1L476.7,443.0L477.4,444.5L478.1,446.2L478.8,448.0L479.6,449.9L480.3,452.0L481.0,454.0L481.7,456.1L482.4,458.1L483.0,460.0L483.6,461.9L484.1,463.5L484.5,465.1L484.9,466.8L485.3,468.4L485.7,470.0L486.1,471.5L486.5,473.0L486.8,474.5L487.2,475.8L487.6,477.0L487.8,477.7L488.1,478.4L488.3,479.0L488.5,479.7L488.7,480.2L489.0,480.8L489.2,481.4L489.5,481.9L489.8,482.5L490.1,483.0L490.5,483.6L490.8,484.1L491.3,484.6L491.7,485.1L492.1,485.6L492.6,486.2L493.0,486.6L493.5,487.1L494.0,487.6L494.4,488.1L494.8,488.6L495.2,489.0L495.7,489.5L496.1,489.9L496.5,490.4L496.9,490.8L497.4,491.2L497.8,491.6L498.3,492.0L498.7,492.4L499.1,492.7L499.5,493.1L499.9,493.4L500.3,493.8L500.7,494.1L501.1,494.4L501.6,494.7L502.0,494.9L502.5,495.2L503.0,495.4L503.7,495.6L504.4,495.8L505.1,496.0L505.9,496.1L506.7,496.2L507.5,496.3L508.3,496.4L509.1,496.5L509.9,496.6L510.7,496.7L511.5,496.8L512.4,496.9L513.2,497.0L514.1,497.1L515.0,497.2L515.8,497.2L516.7,497.3L517.6,497.4L518.4,497.5L519.3,497.6L520.2,497.7L521.0,497.8L521.9,497.9L522.8,498.0L523.7,498.1L524.6,498.2L525.4,498.3L526.2,498.4L527.0,498.6L527.8,498.8L528.4,499.0L528.9,499.2L529.5,499.4L530.0,499.6L530.5,499.8L530.9,500.0L531.4,500.2L531.9,500.5L532.5,500.7L533.0,501.0L533.7,501.3L534.3,501.6L535.0,502.0L535.8,502.3L536.5,502.7L537.2,503.1L537.9,503.4L538.6,503.8L539.3,504.2L540.0,504.6L540.6,505.0L541.3,505.4L541.9,505.8L542.5,506.3L543.1,506.7L543.7,507.1L544.3,507.5L544.9,507.9L545.6,508.3L546.3,508.6L547.2,509.0L548.1,509.3L549.0,509.6L550.0,509.9L551.1,510.2L552.1,510.5L553.0,510.7L554.0,510.8L554.9,510.9L555.7,510.9L556.2,510.8L556.8,510.7L557.2,510.6L557.7,510.4L558.2,510.2L558.6,510.0L559.1,509.8L559.5,509.6L560.0,509.5L560.5,509.4L561.1,509.4L561.7,509.5L562.4,509.6L563.1,509.8L563.8,510.0L564.4,510.2L565.1,510.3L565.7,510.4L566.3,510.3L566.8,510.2L567.2,510.0L567.6,509.7L567.9,509.4L568.2,509.0L568.5,508.6L568.8,508.1L569.1,507.7L569.3,507.2L569.6,506.7L569.9,506.2L570.3,505.6L570.6,504.9L570.9,504.2L571.3,503.4L571.6,502.7L571.9,501.9L572.2,501.1L572.5,500.4L572.8,499.7L573.1,499.1L573.3,498.6L573.5,498.1L573.7,497.6L573.9,497.1L574.1,496.6L574.2,496.2L574.4,495.8L574.6,495.5L574.8,495.3L575.0,495.2L575.2,495.2L575.4,495.4L575.6,495.6L575.8,495.9L576.0,496.2L576.2,496.6L576.4,497.0L576.6,497.4L576.8,497.9L577.0,498.3L577.2,499.0L577.5,499.8L577.6,500.7L577.8,501.6L577.9,502.5L578.1,503.5L578.2,504.6L578.3,505.6L578.5,506.7L578.6,507.8L578.8,509.3L579.0,510.9L579.2,512.5L579.3,514.1L579.5,515.8L579.7,517.6L579.8,519.4L580.0,521.2L580.2,523.1L580.4,525.0L580.6,527.4L580.9,529.9L581.2,532.5L581.4,535.2L581.7,537.9L582.0,540.7L582.3,543.4L582.6,546.1L582.9,548.8L583.2,551.5L583.5,554.1L583.8,556.9L584.1,559.7L584.4,562.5L584.8,565.2L585.1,567.9L585.5,570.5L586.0,572.9L586.4,575.2L587.0,577.2L587.4,578.4L587.8,579.7L588.2,580.9L588.6,582.1L589.0,583.3L589.5,584.3L590.0,585.1L590.5,585.8L591.0,586.3L591.5,586.5L592.0,586.4L592.6,586.2L593.1,585.7L593.7,585.1L594.3,584.4L595.0,583.5L595.6,582.6L596.2,581.7L596.7,580.7L597.3,579.8L598.1,578.3L598.9,576.5L599.7,574.6L600.5,572.5L601.3,570.3L602.0,568.2L602.8,566.0L603.5,563.9L604.3,561.9L605.0,560.0L605.6,558.6L606.2,557.2L606.8,555.9L607.4,554.6L608.0,553.3L608.6,552.0L609.2,550.8L609.8,549.5L610.4,548.3L611.0,547.0L611.6,545.8L612.2,544.5L612.8,543.3L613.3,542.0L613.9,540.8L614.5,539.6L615.1,538.4L615.7,537.2L616.4,536.1L617.0,535.0L617.6,534.0L618.1,533.1L618.7,532.1L619.3,531.2L619.9,530.3L620.5,529.4L621.1,528.6L621.7,527.8L622.3,527.1L623.0,526.5L623.6,526.1L624.1,525.7L624.7,525.4L625.3,525.1L626.0,524.9L626.6,524.7L627.2,524.4L627.8,524.2L628.4,523.9L629.0,523.5L629.6,523.0L630.2,522.5L630.8,522.0L631.4,521.4L632.0,520.9L632.6,520.3L633.2,519.7L633.8,519.1L634.4,518.5L635.0,518.0L635.6,517.5L636.2,516.9L636.8,516.4L637.3,515.9L637.9,515.3L638.5,514.8L639.1,514.3L639.7,513.8L640.4,513.4L641.0,513.0L641.7,512.6L642.3,512.3L643.0,512.0L643.7,511.7L644.4,511.4L645.1,511.1L645.9,510.9L646.6,510.7L647.3,510.6L648.0,510.5L648.7,510.5L649.4,510.5L650.1,510.6L650.8,510.8L651.5,511.0L652.2,511.1L652.9,511.3L653.6,511.4L654.3,511.5L655.0,511.5L655.8,511.4L656.6,511.3L657.4,511.1L658.2,510.9L659.0,510.7L659.8,510.5L660.6,510.2L661.4,510.0L662.2,509.7L663.0,509.5L663.7,509.3L664.4,509.1L665.1,508.9L665.8,508.6L666.4,508.4L667.1,508.2L667.8,508.0L668.5,507.8L669.2,507.6L670.0,507.5L670.9,507.4L671.9,507.3L672.9,507.2L673.9,507.2L674.9,507.1L675.9,507.1L676.9,507.1L678.0,507.1L679.0,507.0L680.0,507.0" fill="none" stroke="#000" stroke-width="2.7" stroke-linejoin="round" stroke-linecap="butt"/>
<path d="M414.71,378.80L414.71,661.75L692.00,661.75" fill="none" stroke="#1c1c1c" stroke-width="1.4" stroke-linejoin="round" stroke-linecap="round"/>
<line x1="411.41" y1="438.00" x2="414.71" y2="438.00" stroke="#333" stroke-width="1.1"/>
<text x="408.51" y="441.80" text-anchor="end" font-size="10.7" fill="#4d4d4d">5.00</text>
<line x1="411.41" y1="508.71" x2="414.71" y2="508.71" stroke="#333" stroke-width="1.1"/>
<text x="408.51" y="512.51" text-anchor="end" font-size="10.7" fill="#4d4d4d">0.00</text>
<line x1="411.41" y1="579.42" x2="414.71" y2="579.42" stroke="#333" stroke-width="1.1"/>
<text x="408.51" y="583.22" text-anchor="end" font-size="10.7" fill="#4d4d4d">−5.00</text>
<line x1="411.41" y1="650.14" x2="414.71" y2="650.14" stroke="#333" stroke-width="1.1"/>
<text x="408.51" y="653.94" text-anchor="end" font-size="10.7" fill="#4d4d4d">−10.00</text>
<line x1="463.51" y1="661.75" x2="463.51" y2="665.05" stroke="#333" stroke-width="1.1"/>
<text x="463.51" y="676.15" text-anchor="middle" font-size="10.9" fill="#4d4d4d">0</text>
<line x1="536.17" y1="661.75" x2="536.17" y2="665.05" stroke="#333" stroke-width="1.1"/>
<text x="536.17" y="676.15" text-anchor="middle" font-size="10.9" fill="#4d4d4d">2</text>
<line x1="608.83" y1="661.75" x2="608.83" y2="665.05" stroke="#333" stroke-width="1.1"/>
<text x="608.83" y="676.15" text-anchor="middle" font-size="10.9" fill="#4d4d4d">4</text>
<line x1="681.49" y1="661.75" x2="681.49" y2="665.05" stroke="#333" stroke-width="1.1"/>
<text x="681.49" y="676.15" text-anchor="middle" font-size="10.9" fill="#4d4d4d">6</text>
<text x="554.11" y="690.95" text-anchor="middle" font-size="13.7" fill="#000">Time (s)</text>
<text transform="translate(365.50,519.50) rotate(-90)" text-anchor="middle" font-size="13.5" fill="#000">&#946;<tspan font-size="8.8" dx="0.7" dy="2.4">3</tspan><tspan dy="-2.4">(s)</tspan></text>
<text x="553.71" y="367.70" text-anchor="middle" font-size="15.7" font-weight="bold" fill="#000">Mean Change: Last−1st Session</text>
<text x="350.70" y="368.30" font-size="19" fill="#000">D</text>
<line x1="464.51" y1="394.60" x2="499.34" y2="394.60" stroke="#d6112c" stroke-width="2.6"/>
<text x="481.92" y="390.60" text-anchor="middle" font-size="11" fill="#d6112c">Early</text>
<line x1="500.84" y1="394.60" x2="535.67" y2="394.60" stroke="#1b67b5" stroke-width="2.6"/>
<text x="518.25" y="390.60" text-anchor="middle" font-size="11" fill="#1b67b5">Mid</text>
<line x1="537.17" y1="394.60" x2="572.00" y2="394.60" stroke="#eaa215" stroke-width="2.6"/>
<text x="554.59" y="390.60" text-anchor="middle" font-size="11" fill="#eaa215">Late</text>
</svg>
</body></html>
